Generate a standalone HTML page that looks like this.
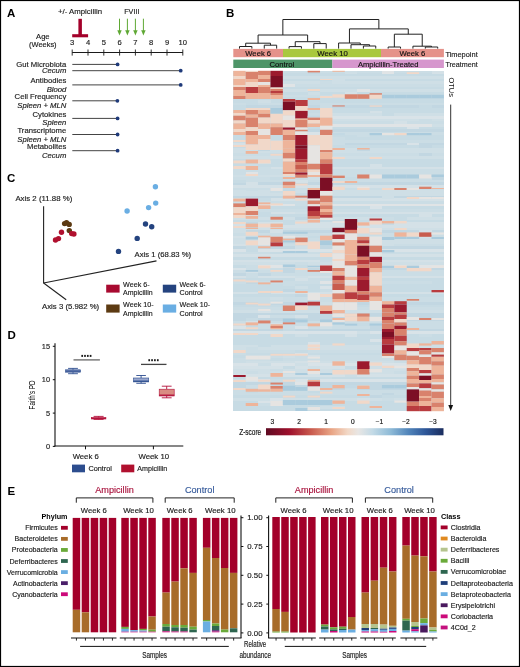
<!DOCTYPE html>
<html><head><meta charset="utf-8"><style>
html,body{margin:0;padding:0;background:#fff;}
body{width:520px;height:667px;overflow:hidden;}
svg{display:block;will-change:transform;font-family:"Liberation Sans", sans-serif;}
</style></head><body>
<svg width="520" height="667" viewBox="0 0 520 667">
<rect x="0" y="0" width="520" height="667" fill="#fff"/>
<text x="6.90" y="16.90" font-size="11.5" fill="#000" font-weight="bold">A</text>
<text x="58.00" y="13.80" font-size="7.6" stroke="#1a1a1a" stroke-width="0.15" fill="#1a1a1a" textLength="44" lengthAdjust="spacingAndGlyphs">+/- Ampicillin</text>
<text x="124.20" y="13.60" font-size="7.6" stroke="#1a1a1a" stroke-width="0.15" fill="#1a1a1a" textLength="15.2" lengthAdjust="spacingAndGlyphs">FVIII</text>
<rect x="78.40" y="18.80" width="3.50" height="16.20" fill="#a3002a" />
<rect x="72.20" y="34.20" width="15.90" height="3.10" fill="#a3002a" />
<line x1="119.50" y1="18.70" x2="119.50" y2="31.50" stroke="#5fa834" stroke-width="1" />
<polygon points="117.30,30.2 121.70,30.2 119.50,35.6" fill="#5fa834"/>
<line x1="127.40" y1="18.70" x2="127.40" y2="31.50" stroke="#5fa834" stroke-width="1" />
<polygon points="125.20,30.2 129.60,30.2 127.40,35.6" fill="#5fa834"/>
<line x1="135.40" y1="18.70" x2="135.40" y2="31.50" stroke="#5fa834" stroke-width="1" />
<polygon points="133.20,30.2 137.60,30.2 135.40,35.6" fill="#5fa834"/>
<line x1="143.40" y1="18.70" x2="143.40" y2="31.50" stroke="#5fa834" stroke-width="1" />
<polygon points="141.20,30.2 145.60,30.2 143.40,35.6" fill="#5fa834"/>
<text x="42.85" y="38.50" font-size="7.6" stroke="#1a1a1a" stroke-width="0.15" text-anchor="middle" fill="#1a1a1a">Age</text>
<text x="42.80" y="46.90" font-size="7.6" stroke="#1a1a1a" stroke-width="0.15" text-anchor="middle" fill="#1a1a1a" textLength="27.6" lengthAdjust="spacingAndGlyphs">(Weeks)</text>
<text x="72.20" y="44.60" font-size="7.6" stroke="#1a1a1a" stroke-width="0.15" text-anchor="middle" fill="#1a1a1a">3</text>
<line x1="72.20" y1="49.50" x2="72.20" y2="55.60" stroke="#1a1a1a" stroke-width="0.9" />
<text x="88.00" y="44.60" font-size="7.6" stroke="#1a1a1a" stroke-width="0.15" text-anchor="middle" fill="#1a1a1a">4</text>
<line x1="88.00" y1="49.50" x2="88.00" y2="55.60" stroke="#1a1a1a" stroke-width="0.9" />
<text x="103.80" y="44.60" font-size="7.6" stroke="#1a1a1a" stroke-width="0.15" text-anchor="middle" fill="#1a1a1a">5</text>
<line x1="103.80" y1="49.50" x2="103.80" y2="55.60" stroke="#1a1a1a" stroke-width="0.9" />
<text x="119.60" y="44.60" font-size="7.6" stroke="#1a1a1a" stroke-width="0.15" text-anchor="middle" fill="#1a1a1a">6</text>
<line x1="119.60" y1="49.50" x2="119.60" y2="55.60" stroke="#1a1a1a" stroke-width="0.9" />
<text x="135.40" y="44.60" font-size="7.6" stroke="#1a1a1a" stroke-width="0.15" text-anchor="middle" fill="#1a1a1a">7</text>
<line x1="135.40" y1="49.50" x2="135.40" y2="55.60" stroke="#1a1a1a" stroke-width="0.9" />
<text x="151.20" y="44.60" font-size="7.6" stroke="#1a1a1a" stroke-width="0.15" text-anchor="middle" fill="#1a1a1a">8</text>
<line x1="151.20" y1="49.50" x2="151.20" y2="55.60" stroke="#1a1a1a" stroke-width="0.9" />
<text x="167.00" y="44.60" font-size="7.6" stroke="#1a1a1a" stroke-width="0.15" text-anchor="middle" fill="#1a1a1a">9</text>
<line x1="167.00" y1="49.50" x2="167.00" y2="55.60" stroke="#1a1a1a" stroke-width="0.9" />
<text x="182.80" y="44.60" font-size="7.6" stroke="#1a1a1a" stroke-width="0.15" text-anchor="middle" fill="#1a1a1a">10</text>
<line x1="182.80" y1="49.50" x2="182.80" y2="55.60" stroke="#1a1a1a" stroke-width="0.9" />
<line x1="72.20" y1="52.50" x2="182.90" y2="52.50" stroke="#1a1a1a" stroke-width="1.1" />
<text x="66.30" y="66.80" font-size="7.7" stroke="#1a1a1a" stroke-width="0.15" text-anchor="end" fill="#1a1a1a">Gut Microbiota</text>
<text x="66.30" y="73.40" font-size="7.7" stroke="#1a1a1a" stroke-width="0.15" text-anchor="end" fill="#1a1a1a" font-style="italic">Cecum</text>
<text x="66.30" y="83.20" font-size="7.7" stroke="#1a1a1a" stroke-width="0.15" text-anchor="end" fill="#1a1a1a">Antibodies</text>
<text x="66.30" y="91.80" font-size="7.7" stroke="#1a1a1a" stroke-width="0.15" text-anchor="end" fill="#1a1a1a" font-style="italic">Blood</text>
<text x="66.30" y="99.40" font-size="7.7" stroke="#1a1a1a" stroke-width="0.15" text-anchor="end" fill="#1a1a1a">Cell Frequency</text>
<text x="66.30" y="107.60" font-size="7.7" stroke="#1a1a1a" stroke-width="0.15" text-anchor="end" fill="#1a1a1a" font-style="italic">Spleen + MLN</text>
<text x="66.30" y="117.20" font-size="7.7" stroke="#1a1a1a" stroke-width="0.15" text-anchor="end" fill="#1a1a1a">Cytokines</text>
<text x="66.30" y="125.30" font-size="7.7" stroke="#1a1a1a" stroke-width="0.15" text-anchor="end" fill="#1a1a1a" font-style="italic">Spleen</text>
<text x="66.30" y="133.30" font-size="7.7" stroke="#1a1a1a" stroke-width="0.15" text-anchor="end" fill="#1a1a1a">Transcriptome</text>
<text x="66.30" y="141.80" font-size="7.7" stroke="#1a1a1a" stroke-width="0.15" text-anchor="end" fill="#1a1a1a" font-style="italic">Spleen + MLN</text>
<text x="66.30" y="149.10" font-size="7.7" stroke="#1a1a1a" stroke-width="0.15" text-anchor="end" fill="#1a1a1a">Metabolites</text>
<text x="66.30" y="157.60" font-size="7.7" stroke="#1a1a1a" stroke-width="0.15" text-anchor="end" fill="#1a1a1a" font-style="italic">Cecum</text>
<line x1="72.30" y1="64.40" x2="117.60" y2="64.40" stroke="#444" stroke-width="1.0" />
<circle cx="117.60" cy="64.40" r="1.9" fill="#1f3a7a"/>
<line x1="72.30" y1="70.70" x2="180.70" y2="70.70" stroke="#444" stroke-width="1.0" />
<circle cx="180.70" cy="70.70" r="1.9" fill="#1f3a7a"/>
<line x1="72.30" y1="84.90" x2="180.70" y2="84.90" stroke="#444" stroke-width="1.0" />
<circle cx="180.70" cy="84.90" r="1.9" fill="#1f3a7a"/>
<line x1="72.30" y1="100.80" x2="117.40" y2="100.80" stroke="#444" stroke-width="1.0" />
<circle cx="117.40" cy="100.80" r="1.9" fill="#1f3a7a"/>
<line x1="72.30" y1="118.40" x2="117.60" y2="118.40" stroke="#444" stroke-width="1.0" />
<circle cx="117.60" cy="118.40" r="1.9" fill="#1f3a7a"/>
<line x1="72.30" y1="134.50" x2="117.60" y2="134.50" stroke="#444" stroke-width="1.0" />
<circle cx="117.60" cy="134.50" r="1.9" fill="#1f3a7a"/>
<line x1="72.30" y1="150.70" x2="117.60" y2="150.70" stroke="#444" stroke-width="1.0" />
<circle cx="117.60" cy="150.70" r="1.9" fill="#1f3a7a"/>
<text x="226.00" y="16.90" font-size="11.5" fill="#000" font-weight="bold">B</text>
<g shape-rendering="crispEdges">
<rect x="233.30" y="70.80" width="210.60" height="2.71" fill="#cbdde5" />
<rect x="233.30" y="73.46" width="210.60" height="2.71" fill="#c7dbe4" />
<rect x="233.30" y="76.12" width="210.60" height="2.71" fill="#cfdfe6" />
<rect x="233.30" y="78.78" width="210.60" height="2.71" fill="#c7dbe4" />
<rect x="233.30" y="81.44" width="210.60" height="2.71" fill="#cfdfe6" />
<rect x="233.30" y="84.10" width="210.60" height="2.71" fill="#cbdde5" />
<rect x="233.30" y="86.76" width="210.60" height="2.71" fill="#c7dbe4" />
<rect x="233.30" y="89.42" width="210.60" height="2.71" fill="#cfdfe6" />
<rect x="233.30" y="92.07" width="210.60" height="2.71" fill="#c7dbe4" />
<rect x="233.30" y="94.73" width="210.60" height="2.71" fill="#cbdde5" />
<rect x="233.30" y="97.39" width="210.60" height="2.71" fill="#c7dbe4" />
<rect x="233.30" y="100.05" width="210.60" height="2.71" fill="#c7dbe4" />
<rect x="233.30" y="102.71" width="210.60" height="2.71" fill="#cbdde5" />
<rect x="233.30" y="105.37" width="210.60" height="2.71" fill="#c2d7e2" />
<rect x="233.30" y="108.03" width="210.60" height="2.71" fill="#c7dbe4" />
<rect x="233.30" y="110.69" width="210.60" height="2.71" fill="#c7dbe4" />
<rect x="233.30" y="113.35" width="210.60" height="2.71" fill="#cfdfe6" />
<rect x="233.30" y="116.01" width="210.60" height="2.71" fill="#d9e3e8" />
<rect x="233.30" y="118.67" width="210.60" height="2.71" fill="#cfdfe6" />
<rect x="233.30" y="121.33" width="210.60" height="2.71" fill="#cbdde5" />
<rect x="233.30" y="123.99" width="210.60" height="2.71" fill="#e0e4e6" />
<rect x="233.30" y="126.65" width="210.60" height="2.71" fill="#c7dbe4" />
<rect x="233.30" y="129.31" width="210.60" height="2.71" fill="#c2d7e2" />
<rect x="233.30" y="131.97" width="210.60" height="2.71" fill="#cbdde5" />
<rect x="233.30" y="134.62" width="210.60" height="2.71" fill="#c7dbe4" />
<rect x="233.30" y="137.28" width="210.60" height="2.71" fill="#c7dbe4" />
<rect x="233.30" y="139.94" width="210.60" height="2.71" fill="#cbdde5" />
<rect x="233.30" y="142.60" width="210.60" height="2.71" fill="#c2d7e2" />
<rect x="233.30" y="145.26" width="210.60" height="2.71" fill="#c7dbe4" />
<rect x="233.30" y="147.92" width="210.60" height="2.71" fill="#cfdfe6" />
<rect x="233.30" y="150.58" width="210.60" height="2.71" fill="#cfdfe6" />
<rect x="233.30" y="153.24" width="210.60" height="2.71" fill="#cbdde5" />
<rect x="233.30" y="155.90" width="210.60" height="2.71" fill="#cfdfe6" />
<rect x="233.30" y="158.56" width="210.60" height="2.71" fill="#c7dbe4" />
<rect x="233.30" y="161.22" width="210.60" height="2.71" fill="#c7dbe4" />
<rect x="233.30" y="163.88" width="210.60" height="2.71" fill="#c7dbe4" />
<rect x="233.30" y="166.54" width="210.60" height="2.71" fill="#d4e1e7" />
<rect x="233.30" y="169.20" width="210.60" height="2.71" fill="#cbdde5" />
<rect x="233.30" y="171.86" width="210.60" height="2.71" fill="#cbdde5" />
<rect x="233.30" y="174.52" width="210.60" height="2.71" fill="#cfdfe6" />
<rect x="233.30" y="177.18" width="210.60" height="2.71" fill="#cbdde5" />
<rect x="233.30" y="179.83" width="210.60" height="2.71" fill="#cbdde5" />
<rect x="233.30" y="182.49" width="210.60" height="2.71" fill="#c2d7e2" />
<rect x="233.30" y="185.15" width="210.60" height="2.71" fill="#d4e1e7" />
<rect x="233.30" y="187.81" width="210.60" height="2.71" fill="#cbdde5" />
<rect x="233.30" y="190.47" width="210.60" height="2.71" fill="#cfdfe6" />
<rect x="233.30" y="193.13" width="210.60" height="2.71" fill="#cfdfe6" />
<rect x="233.30" y="195.79" width="210.60" height="2.71" fill="#c2d7e2" />
<rect x="233.30" y="198.45" width="210.60" height="2.71" fill="#d4e1e7" />
<rect x="233.30" y="201.11" width="210.60" height="2.71" fill="#cbdde5" />
<rect x="233.30" y="203.77" width="210.60" height="2.71" fill="#e0e4e6" />
<rect x="233.30" y="206.43" width="210.60" height="2.71" fill="#c7dbe4" />
<rect x="233.30" y="209.09" width="210.60" height="2.71" fill="#cbdde5" />
<rect x="233.30" y="211.75" width="210.60" height="2.71" fill="#d4e1e7" />
<rect x="233.30" y="214.41" width="210.60" height="2.71" fill="#c7dbe4" />
<rect x="233.30" y="217.07" width="210.60" height="2.71" fill="#cfdfe6" />
<rect x="233.30" y="219.72" width="210.60" height="2.71" fill="#c7dbe4" />
<rect x="233.30" y="222.38" width="210.60" height="2.71" fill="#d4e1e7" />
<rect x="233.30" y="225.04" width="210.60" height="2.71" fill="#d4e1e7" />
<rect x="233.30" y="227.70" width="210.60" height="2.71" fill="#cfdfe6" />
<rect x="233.30" y="230.36" width="210.60" height="2.71" fill="#c2d7e2" />
<rect x="233.30" y="233.02" width="210.60" height="2.71" fill="#cbdde5" />
<rect x="233.30" y="235.68" width="210.60" height="2.71" fill="#d4e1e7" />
<rect x="233.30" y="238.34" width="210.60" height="2.71" fill="#cfdfe6" />
<rect x="233.30" y="241.00" width="210.60" height="2.71" fill="#cfdfe6" />
<rect x="233.30" y="243.66" width="210.60" height="2.71" fill="#cbdde5" />
<rect x="233.30" y="246.32" width="210.60" height="2.71" fill="#c2d7e2" />
<rect x="233.30" y="248.98" width="210.60" height="2.71" fill="#d9e3e8" />
<rect x="233.30" y="251.64" width="210.60" height="2.71" fill="#cbdde5" />
<rect x="233.30" y="254.30" width="210.60" height="2.71" fill="#d4e1e7" />
<rect x="233.30" y="256.96" width="210.60" height="2.71" fill="#c7dbe4" />
<rect x="233.30" y="259.62" width="210.60" height="2.71" fill="#d4e1e7" />
<rect x="233.30" y="262.27" width="210.60" height="2.71" fill="#cfdfe6" />
<rect x="233.30" y="264.93" width="210.60" height="2.71" fill="#e0e4e6" />
<rect x="233.30" y="267.59" width="210.60" height="2.71" fill="#c2d7e2" />
<rect x="233.30" y="270.25" width="210.60" height="2.71" fill="#cbdde5" />
<rect x="233.30" y="272.91" width="210.60" height="2.71" fill="#cbdde5" />
<rect x="233.30" y="275.57" width="210.60" height="2.71" fill="#d4e1e7" />
<rect x="233.30" y="278.23" width="210.60" height="2.71" fill="#c7dbe4" />
<rect x="233.30" y="280.89" width="210.60" height="2.71" fill="#cbdde5" />
<rect x="233.30" y="283.55" width="210.60" height="2.71" fill="#c7dbe4" />
<rect x="233.30" y="286.21" width="210.60" height="2.71" fill="#c7dbe4" />
<rect x="233.30" y="288.87" width="210.60" height="2.71" fill="#c7dbe4" />
<rect x="233.30" y="291.53" width="210.60" height="2.71" fill="#d4e1e7" />
<rect x="233.30" y="294.19" width="210.60" height="2.71" fill="#c7dbe4" />
<rect x="233.30" y="296.85" width="210.60" height="2.71" fill="#cbdde5" />
<rect x="233.30" y="299.51" width="210.60" height="2.71" fill="#cbdde5" />
<rect x="233.30" y="302.17" width="210.60" height="2.71" fill="#c2d7e2" />
<rect x="233.30" y="304.82" width="210.60" height="2.71" fill="#c7dbe4" />
<rect x="233.30" y="307.48" width="210.60" height="2.71" fill="#cbdde5" />
<rect x="233.30" y="310.14" width="210.60" height="2.71" fill="#cfdfe6" />
<rect x="233.30" y="312.80" width="210.60" height="2.71" fill="#c2d7e2" />
<rect x="233.30" y="315.46" width="210.60" height="2.71" fill="#c2d7e2" />
<rect x="233.30" y="318.12" width="210.60" height="2.71" fill="#c2d7e2" />
<rect x="233.30" y="320.78" width="210.60" height="2.71" fill="#cbdde5" />
<rect x="233.30" y="323.44" width="210.60" height="2.71" fill="#cbdde5" />
<rect x="233.30" y="326.10" width="210.60" height="2.71" fill="#cbdde5" />
<rect x="233.30" y="328.76" width="210.60" height="2.71" fill="#c2d7e2" />
<rect x="233.30" y="331.42" width="210.60" height="2.71" fill="#d9e3e8" />
<rect x="233.30" y="334.08" width="210.60" height="2.71" fill="#c7dbe4" />
<rect x="233.30" y="336.74" width="210.60" height="2.71" fill="#c7dbe4" />
<rect x="233.30" y="339.40" width="210.60" height="2.71" fill="#c7dbe4" />
<rect x="233.30" y="342.06" width="210.60" height="2.71" fill="#c7dbe4" />
<rect x="233.30" y="344.72" width="210.60" height="2.71" fill="#cfdfe6" />
<rect x="233.30" y="347.38" width="210.60" height="2.71" fill="#cfdfe6" />
<rect x="233.30" y="350.03" width="210.60" height="2.71" fill="#cbdde5" />
<rect x="233.30" y="352.69" width="210.60" height="2.71" fill="#c7dbe4" />
<rect x="233.30" y="355.35" width="210.60" height="2.71" fill="#cbdde5" />
<rect x="233.30" y="358.01" width="210.60" height="2.71" fill="#cbdde5" />
<rect x="233.30" y="360.67" width="210.60" height="2.71" fill="#cfdfe6" />
<rect x="233.30" y="363.33" width="210.60" height="2.71" fill="#d9e3e8" />
<rect x="233.30" y="365.99" width="210.60" height="2.71" fill="#d4e1e7" />
<rect x="233.30" y="368.65" width="210.60" height="2.71" fill="#cfdfe6" />
<rect x="233.30" y="371.31" width="210.60" height="2.71" fill="#cfdfe6" />
<rect x="233.30" y="373.97" width="210.60" height="2.71" fill="#d4e1e7" />
<rect x="233.30" y="376.63" width="210.60" height="2.71" fill="#c7dbe4" />
<rect x="233.30" y="379.29" width="210.60" height="2.71" fill="#d9e3e8" />
<rect x="233.30" y="381.95" width="210.60" height="2.71" fill="#c2d7e2" />
<rect x="233.30" y="384.61" width="210.60" height="2.71" fill="#c2d7e2" />
<rect x="233.30" y="387.27" width="210.60" height="2.71" fill="#c2d7e2" />
<rect x="233.30" y="389.93" width="210.60" height="2.71" fill="#cbdde5" />
<rect x="233.30" y="392.58" width="210.60" height="2.71" fill="#cbdde5" />
<rect x="233.30" y="395.24" width="210.60" height="2.71" fill="#c7dbe4" />
<rect x="233.30" y="397.90" width="210.60" height="2.71" fill="#cfdfe6" />
<rect x="233.30" y="400.56" width="210.60" height="2.71" fill="#c7dbe4" />
<rect x="233.30" y="403.22" width="210.60" height="2.71" fill="#c7dbe4" />
<rect x="233.30" y="405.88" width="210.60" height="2.71" fill="#c7dbe4" />
<rect x="233.30" y="408.54" width="210.60" height="2.71" fill="#c7dbe4" />
<rect x="233.30" y="73.46" width="12.44" height="2.71" fill="#c7dbe4" />
<rect x="233.30" y="76.12" width="12.44" height="2.71" fill="#c7dbe4" />
<rect x="233.30" y="81.44" width="12.44" height="2.71" fill="#c2d7e2" />
<rect x="233.30" y="86.76" width="12.44" height="2.71" fill="#cbdde5" />
<rect x="233.30" y="94.73" width="12.44" height="2.71" fill="#c2d7e2" />
<rect x="233.30" y="105.37" width="12.44" height="2.71" fill="#c7dbe4" />
<rect x="233.30" y="116.01" width="12.44" height="2.71" fill="#c7dbe4" />
<rect x="233.30" y="123.99" width="12.44" height="2.71" fill="#cfdfe6" />
<rect x="233.30" y="126.65" width="12.44" height="2.71" fill="#cfdfe6" />
<rect x="233.30" y="142.60" width="12.44" height="2.71" fill="#d4e1e7" />
<rect x="233.30" y="179.83" width="12.44" height="2.71" fill="#c7dbe4" />
<rect x="233.30" y="211.75" width="12.44" height="2.71" fill="#c7dbe4" />
<rect x="233.30" y="230.36" width="12.44" height="2.71" fill="#cfdfe6" />
<rect x="233.30" y="243.66" width="12.44" height="2.71" fill="#d4e1e7" />
<rect x="233.30" y="264.93" width="12.44" height="2.71" fill="#c7dbe4" />
<rect x="233.30" y="267.59" width="12.44" height="2.71" fill="#d9e3e8" />
<rect x="233.30" y="272.91" width="12.44" height="2.71" fill="#c2d7e2" />
<rect x="233.30" y="286.21" width="12.44" height="2.71" fill="#c7dbe4" />
<rect x="233.30" y="326.10" width="12.44" height="2.71" fill="#d9e3e8" />
<rect x="233.30" y="352.69" width="12.44" height="2.71" fill="#cbdde5" />
<rect x="233.30" y="355.35" width="12.44" height="2.71" fill="#c7dbe4" />
<rect x="233.30" y="360.67" width="12.44" height="2.71" fill="#cbdde5" />
<rect x="233.30" y="379.29" width="12.44" height="2.71" fill="#cfdfe6" />
<rect x="245.69" y="102.71" width="12.44" height="2.71" fill="#c7dbe4" />
<rect x="245.69" y="108.03" width="12.44" height="2.71" fill="#c7dbe4" />
<rect x="245.69" y="110.69" width="12.44" height="2.71" fill="#cfdfe6" />
<rect x="245.69" y="118.67" width="12.44" height="2.71" fill="#d4e1e7" />
<rect x="245.69" y="123.99" width="12.44" height="2.71" fill="#c2d7e2" />
<rect x="245.69" y="145.26" width="12.44" height="2.71" fill="#cbdde5" />
<rect x="245.69" y="153.24" width="12.44" height="2.71" fill="#cbdde5" />
<rect x="245.69" y="158.56" width="12.44" height="2.71" fill="#cfdfe6" />
<rect x="245.69" y="163.88" width="12.44" height="2.71" fill="#cbdde5" />
<rect x="245.69" y="171.86" width="12.44" height="2.71" fill="#e0e4e6" />
<rect x="245.69" y="179.83" width="12.44" height="2.71" fill="#cbdde5" />
<rect x="245.69" y="182.49" width="12.44" height="2.71" fill="#d4e1e7" />
<rect x="245.69" y="187.81" width="12.44" height="2.71" fill="#cbdde5" />
<rect x="245.69" y="198.45" width="12.44" height="2.71" fill="#d9e3e8" />
<rect x="245.69" y="206.43" width="12.44" height="2.71" fill="#c7dbe4" />
<rect x="245.69" y="214.41" width="12.44" height="2.71" fill="#d9e3e8" />
<rect x="245.69" y="222.38" width="12.44" height="2.71" fill="#c2d7e2" />
<rect x="245.69" y="225.04" width="12.44" height="2.71" fill="#c2d7e2" />
<rect x="245.69" y="241.00" width="12.44" height="2.71" fill="#cfdfe6" />
<rect x="245.69" y="246.32" width="12.44" height="2.71" fill="#c7dbe4" />
<rect x="245.69" y="248.98" width="12.44" height="2.71" fill="#c7dbe4" />
<rect x="245.69" y="264.93" width="12.44" height="2.71" fill="#cbdde5" />
<rect x="245.69" y="267.59" width="12.44" height="2.71" fill="#cbdde5" />
<rect x="245.69" y="270.25" width="12.44" height="2.71" fill="#d4e1e7" />
<rect x="245.69" y="275.57" width="12.44" height="2.71" fill="#cbdde5" />
<rect x="245.69" y="280.89" width="12.44" height="2.71" fill="#c2d7e2" />
<rect x="245.69" y="318.12" width="12.44" height="2.71" fill="#c7dbe4" />
<rect x="245.69" y="320.78" width="12.44" height="2.71" fill="#d4e1e7" />
<rect x="245.69" y="326.10" width="12.44" height="2.71" fill="#c7dbe4" />
<rect x="245.69" y="347.38" width="12.44" height="2.71" fill="#cbdde5" />
<rect x="245.69" y="371.31" width="12.44" height="2.71" fill="#cbdde5" />
<rect x="245.69" y="384.61" width="12.44" height="2.71" fill="#cbdde5" />
<rect x="245.69" y="387.27" width="12.44" height="2.71" fill="#cbdde5" />
<rect x="245.69" y="389.93" width="12.44" height="2.71" fill="#c7dbe4" />
<rect x="258.08" y="81.44" width="12.44" height="2.71" fill="#d4e1e7" />
<rect x="258.08" y="86.76" width="12.44" height="2.71" fill="#c2d7e2" />
<rect x="258.08" y="100.05" width="12.44" height="2.71" fill="#cfdfe6" />
<rect x="258.08" y="126.65" width="12.44" height="2.71" fill="#c7dbe4" />
<rect x="258.08" y="131.97" width="12.44" height="2.71" fill="#c2d7e2" />
<rect x="258.08" y="147.92" width="12.44" height="2.71" fill="#c2d7e2" />
<rect x="258.08" y="161.22" width="12.44" height="2.71" fill="#d4e1e7" />
<rect x="258.08" y="166.54" width="12.44" height="2.71" fill="#cbdde5" />
<rect x="258.08" y="198.45" width="12.44" height="2.71" fill="#c7dbe4" />
<rect x="258.08" y="211.75" width="12.44" height="2.71" fill="#c7dbe4" />
<rect x="258.08" y="235.68" width="12.44" height="2.71" fill="#d9e3e8" />
<rect x="258.08" y="238.34" width="12.44" height="2.71" fill="#e0e4e6" />
<rect x="258.08" y="243.66" width="12.44" height="2.71" fill="#cbdde5" />
<rect x="258.08" y="267.59" width="12.44" height="2.71" fill="#cfdfe6" />
<rect x="258.08" y="272.91" width="12.44" height="2.71" fill="#c2d7e2" />
<rect x="258.08" y="291.53" width="12.44" height="2.71" fill="#c7dbe4" />
<rect x="258.08" y="302.17" width="12.44" height="2.71" fill="#cbdde5" />
<rect x="258.08" y="310.14" width="12.44" height="2.71" fill="#d4e1e7" />
<rect x="258.08" y="315.46" width="12.44" height="2.71" fill="#d9e3e8" />
<rect x="258.08" y="344.72" width="12.44" height="2.71" fill="#c7dbe4" />
<rect x="258.08" y="363.33" width="12.44" height="2.71" fill="#cbdde5" />
<rect x="258.08" y="387.27" width="12.44" height="2.71" fill="#d4e1e7" />
<rect x="258.08" y="400.56" width="12.44" height="2.71" fill="#d9e3e8" />
<rect x="258.08" y="403.22" width="12.44" height="2.71" fill="#cbdde5" />
<rect x="270.46" y="89.42" width="12.44" height="2.71" fill="#c7dbe4" />
<rect x="270.46" y="110.69" width="12.44" height="2.71" fill="#c7dbe4" />
<rect x="270.46" y="113.35" width="12.44" height="2.71" fill="#cbdde5" />
<rect x="270.46" y="116.01" width="12.44" height="2.71" fill="#c7dbe4" />
<rect x="270.46" y="142.60" width="12.44" height="2.71" fill="#cbdde5" />
<rect x="270.46" y="147.92" width="12.44" height="2.71" fill="#cfdfe6" />
<rect x="270.46" y="177.18" width="12.44" height="2.71" fill="#c7dbe4" />
<rect x="270.46" y="190.47" width="12.44" height="2.71" fill="#cbdde5" />
<rect x="270.46" y="206.43" width="12.44" height="2.71" fill="#c7dbe4" />
<rect x="270.46" y="230.36" width="12.44" height="2.71" fill="#d4e1e7" />
<rect x="270.46" y="243.66" width="12.44" height="2.71" fill="#cbdde5" />
<rect x="270.46" y="251.64" width="12.44" height="2.71" fill="#c7dbe4" />
<rect x="270.46" y="267.59" width="12.44" height="2.71" fill="#cbdde5" />
<rect x="270.46" y="296.85" width="12.44" height="2.71" fill="#cfdfe6" />
<rect x="270.46" y="315.46" width="12.44" height="2.71" fill="#cbdde5" />
<rect x="270.46" y="323.44" width="12.44" height="2.71" fill="#d4e1e7" />
<rect x="270.46" y="358.01" width="12.44" height="2.71" fill="#c7dbe4" />
<rect x="270.46" y="368.65" width="12.44" height="2.71" fill="#cbdde5" />
<rect x="270.46" y="376.63" width="12.44" height="2.71" fill="#c7dbe4" />
<rect x="270.46" y="379.29" width="12.44" height="2.71" fill="#cbdde5" />
<rect x="270.46" y="397.90" width="12.44" height="2.71" fill="#d9e3e8" />
<rect x="270.46" y="403.22" width="12.44" height="2.71" fill="#cfdfe6" />
<rect x="282.85" y="73.46" width="12.44" height="2.71" fill="#c7dbe4" />
<rect x="282.85" y="84.10" width="12.44" height="2.71" fill="#e0e4e6" />
<rect x="282.85" y="100.05" width="12.44" height="2.71" fill="#cbdde5" />
<rect x="282.85" y="108.03" width="12.44" height="2.71" fill="#cbdde5" />
<rect x="282.85" y="113.35" width="12.44" height="2.71" fill="#cbdde5" />
<rect x="282.85" y="121.33" width="12.44" height="2.71" fill="#c7dbe4" />
<rect x="282.85" y="123.99" width="12.44" height="2.71" fill="#d9e3e8" />
<rect x="282.85" y="155.90" width="12.44" height="2.71" fill="#d4e1e7" />
<rect x="282.85" y="166.54" width="12.44" height="2.71" fill="#c7dbe4" />
<rect x="282.85" y="190.47" width="12.44" height="2.71" fill="#c2d7e2" />
<rect x="282.85" y="214.41" width="12.44" height="2.71" fill="#c7dbe4" />
<rect x="282.85" y="222.38" width="12.44" height="2.71" fill="#c7dbe4" />
<rect x="282.85" y="241.00" width="12.44" height="2.71" fill="#c7dbe4" />
<rect x="282.85" y="270.25" width="12.44" height="2.71" fill="#c2d7e2" />
<rect x="282.85" y="283.55" width="12.44" height="2.71" fill="#cbdde5" />
<rect x="282.85" y="288.87" width="12.44" height="2.71" fill="#c2d7e2" />
<rect x="282.85" y="315.46" width="12.44" height="2.71" fill="#cbdde5" />
<rect x="282.85" y="326.10" width="12.44" height="2.71" fill="#cbdde5" />
<rect x="282.85" y="328.76" width="12.44" height="2.71" fill="#c7dbe4" />
<rect x="282.85" y="355.35" width="12.44" height="2.71" fill="#cfdfe6" />
<rect x="282.85" y="365.99" width="12.44" height="2.71" fill="#c7dbe4" />
<rect x="282.85" y="379.29" width="12.44" height="2.71" fill="#cbdde5" />
<rect x="282.85" y="384.61" width="12.44" height="2.71" fill="#cbdde5" />
<rect x="282.85" y="395.24" width="12.44" height="2.71" fill="#c7dbe4" />
<rect x="282.85" y="405.88" width="12.44" height="2.71" fill="#c7dbe4" />
<rect x="295.24" y="100.05" width="12.44" height="2.71" fill="#d4e1e7" />
<rect x="295.24" y="105.37" width="12.44" height="2.71" fill="#d9e3e8" />
<rect x="295.24" y="121.33" width="12.44" height="2.71" fill="#c7dbe4" />
<rect x="295.24" y="131.97" width="12.44" height="2.71" fill="#cfdfe6" />
<rect x="295.24" y="139.94" width="12.44" height="2.71" fill="#cbdde5" />
<rect x="295.24" y="147.92" width="12.44" height="2.71" fill="#cbdde5" />
<rect x="295.24" y="155.90" width="12.44" height="2.71" fill="#c7dbe4" />
<rect x="295.24" y="166.54" width="12.44" height="2.71" fill="#d9e3e8" />
<rect x="295.24" y="179.83" width="12.44" height="2.71" fill="#d4e1e7" />
<rect x="295.24" y="193.13" width="12.44" height="2.71" fill="#c7dbe4" />
<rect x="295.24" y="203.77" width="12.44" height="2.71" fill="#cbdde5" />
<rect x="295.24" y="211.75" width="12.44" height="2.71" fill="#cfdfe6" />
<rect x="295.24" y="217.07" width="12.44" height="2.71" fill="#c2d7e2" />
<rect x="295.24" y="219.72" width="12.44" height="2.71" fill="#cfdfe6" />
<rect x="295.24" y="246.32" width="12.44" height="2.71" fill="#cfdfe6" />
<rect x="295.24" y="262.27" width="12.44" height="2.71" fill="#cbdde5" />
<rect x="295.24" y="264.93" width="12.44" height="2.71" fill="#c7dbe4" />
<rect x="295.24" y="270.25" width="12.44" height="2.71" fill="#cbdde5" />
<rect x="295.24" y="275.57" width="12.44" height="2.71" fill="#cfdfe6" />
<rect x="295.24" y="278.23" width="12.44" height="2.71" fill="#d4e1e7" />
<rect x="295.24" y="286.21" width="12.44" height="2.71" fill="#cfdfe6" />
<rect x="295.24" y="294.19" width="12.44" height="2.71" fill="#c2d7e2" />
<rect x="295.24" y="304.82" width="12.44" height="2.71" fill="#e0e4e6" />
<rect x="295.24" y="315.46" width="12.44" height="2.71" fill="#d4e1e7" />
<rect x="295.24" y="320.78" width="12.44" height="2.71" fill="#cbdde5" />
<rect x="295.24" y="326.10" width="12.44" height="2.71" fill="#d9e3e8" />
<rect x="295.24" y="334.08" width="12.44" height="2.71" fill="#cfdfe6" />
<rect x="295.24" y="350.03" width="12.44" height="2.71" fill="#c7dbe4" />
<rect x="295.24" y="352.69" width="12.44" height="2.71" fill="#d9e3e8" />
<rect x="295.24" y="360.67" width="12.44" height="2.71" fill="#d4e1e7" />
<rect x="295.24" y="363.33" width="12.44" height="2.71" fill="#cfdfe6" />
<rect x="295.24" y="381.95" width="12.44" height="2.71" fill="#e0e4e6" />
<rect x="295.24" y="408.54" width="12.44" height="2.71" fill="#d4e1e7" />
<rect x="307.63" y="70.80" width="12.44" height="2.71" fill="#c2d7e2" />
<rect x="307.63" y="89.42" width="12.44" height="2.71" fill="#c7dbe4" />
<rect x="307.63" y="92.07" width="12.44" height="2.71" fill="#cfdfe6" />
<rect x="307.63" y="102.71" width="12.44" height="2.71" fill="#c7dbe4" />
<rect x="307.63" y="108.03" width="12.44" height="2.71" fill="#c7dbe4" />
<rect x="307.63" y="113.35" width="12.44" height="2.71" fill="#cbdde5" />
<rect x="307.63" y="131.97" width="12.44" height="2.71" fill="#d9e3e8" />
<rect x="307.63" y="137.28" width="12.44" height="2.71" fill="#c7dbe4" />
<rect x="307.63" y="153.24" width="12.44" height="2.71" fill="#cfdfe6" />
<rect x="307.63" y="177.18" width="12.44" height="2.71" fill="#cfdfe6" />
<rect x="307.63" y="185.15" width="12.44" height="2.71" fill="#d4e1e7" />
<rect x="307.63" y="187.81" width="12.44" height="2.71" fill="#cfdfe6" />
<rect x="307.63" y="193.13" width="12.44" height="2.71" fill="#c7dbe4" />
<rect x="307.63" y="206.43" width="12.44" height="2.71" fill="#cbdde5" />
<rect x="307.63" y="211.75" width="12.44" height="2.71" fill="#c2d7e2" />
<rect x="307.63" y="219.72" width="12.44" height="2.71" fill="#c2d7e2" />
<rect x="307.63" y="235.68" width="12.44" height="2.71" fill="#c7dbe4" />
<rect x="307.63" y="238.34" width="12.44" height="2.71" fill="#cbdde5" />
<rect x="307.63" y="278.23" width="12.44" height="2.71" fill="#cbdde5" />
<rect x="307.63" y="342.06" width="12.44" height="2.71" fill="#d9e3e8" />
<rect x="307.63" y="344.72" width="12.44" height="2.71" fill="#c7dbe4" />
<rect x="307.63" y="347.38" width="12.44" height="2.71" fill="#d9e3e8" />
<rect x="307.63" y="352.69" width="12.44" height="2.71" fill="#c7dbe4" />
<rect x="307.63" y="355.35" width="12.44" height="2.71" fill="#d4e1e7" />
<rect x="307.63" y="365.99" width="12.44" height="2.71" fill="#cfdfe6" />
<rect x="307.63" y="379.29" width="12.44" height="2.71" fill="#c2d7e2" />
<rect x="307.63" y="387.27" width="12.44" height="2.71" fill="#c7dbe4" />
<rect x="307.63" y="389.93" width="12.44" height="2.71" fill="#c7dbe4" />
<rect x="307.63" y="408.54" width="12.44" height="2.71" fill="#c7dbe4" />
<rect x="320.02" y="81.44" width="12.44" height="2.71" fill="#cbdde5" />
<rect x="320.02" y="105.37" width="12.44" height="2.71" fill="#cbdde5" />
<rect x="320.02" y="126.65" width="12.44" height="2.71" fill="#c2d7e2" />
<rect x="320.02" y="129.31" width="12.44" height="2.71" fill="#c7dbe4" />
<rect x="320.02" y="139.94" width="12.44" height="2.71" fill="#cfdfe6" />
<rect x="320.02" y="147.92" width="12.44" height="2.71" fill="#cfdfe6" />
<rect x="320.02" y="171.86" width="12.44" height="2.71" fill="#cfdfe6" />
<rect x="320.02" y="174.52" width="12.44" height="2.71" fill="#d4e1e7" />
<rect x="320.02" y="195.79" width="12.44" height="2.71" fill="#c2d7e2" />
<rect x="320.02" y="198.45" width="12.44" height="2.71" fill="#c7dbe4" />
<rect x="320.02" y="235.68" width="12.44" height="2.71" fill="#c2d7e2" />
<rect x="320.02" y="243.66" width="12.44" height="2.71" fill="#cbdde5" />
<rect x="320.02" y="251.64" width="12.44" height="2.71" fill="#cbdde5" />
<rect x="320.02" y="259.62" width="12.44" height="2.71" fill="#cbdde5" />
<rect x="320.02" y="267.59" width="12.44" height="2.71" fill="#c7dbe4" />
<rect x="320.02" y="278.23" width="12.44" height="2.71" fill="#cbdde5" />
<rect x="320.02" y="280.89" width="12.44" height="2.71" fill="#e0e4e6" />
<rect x="320.02" y="286.21" width="12.44" height="2.71" fill="#d9e3e8" />
<rect x="320.02" y="288.87" width="12.44" height="2.71" fill="#cbdde5" />
<rect x="320.02" y="302.17" width="12.44" height="2.71" fill="#cfdfe6" />
<rect x="320.02" y="304.82" width="12.44" height="2.71" fill="#c7dbe4" />
<rect x="320.02" y="310.14" width="12.44" height="2.71" fill="#cbdde5" />
<rect x="320.02" y="326.10" width="12.44" height="2.71" fill="#cfdfe6" />
<rect x="320.02" y="376.63" width="12.44" height="2.71" fill="#cbdde5" />
<rect x="320.02" y="405.88" width="12.44" height="2.71" fill="#cfdfe6" />
<rect x="332.41" y="78.78" width="12.44" height="2.71" fill="#cfdfe6" />
<rect x="332.41" y="137.28" width="12.44" height="2.71" fill="#cbdde5" />
<rect x="332.41" y="142.60" width="12.44" height="2.71" fill="#cbdde5" />
<rect x="332.41" y="241.00" width="12.44" height="2.71" fill="#d4e1e7" />
<rect x="332.41" y="270.25" width="12.44" height="2.71" fill="#c2d7e2" />
<rect x="332.41" y="286.21" width="12.44" height="2.71" fill="#c7dbe4" />
<rect x="332.41" y="368.65" width="12.44" height="2.71" fill="#cbdde5" />
<rect x="332.41" y="384.61" width="12.44" height="2.71" fill="#c2d7e2" />
<rect x="332.41" y="405.88" width="12.44" height="2.71" fill="#cfdfe6" />
<rect x="344.79" y="70.80" width="12.44" height="2.71" fill="#cfdfe6" />
<rect x="344.79" y="92.07" width="12.44" height="2.71" fill="#d4e1e7" />
<rect x="344.79" y="166.54" width="12.44" height="2.71" fill="#d4e1e7" />
<rect x="344.79" y="174.52" width="12.44" height="2.71" fill="#cbdde5" />
<rect x="344.79" y="177.18" width="12.44" height="2.71" fill="#c7dbe4" />
<rect x="344.79" y="225.04" width="12.44" height="2.71" fill="#d4e1e7" />
<rect x="344.79" y="262.27" width="12.44" height="2.71" fill="#cfdfe6" />
<rect x="344.79" y="264.93" width="12.44" height="2.71" fill="#c7dbe4" />
<rect x="344.79" y="278.23" width="12.44" height="2.71" fill="#cbdde5" />
<rect x="344.79" y="304.82" width="12.44" height="2.71" fill="#c7dbe4" />
<rect x="344.79" y="323.44" width="12.44" height="2.71" fill="#d4e1e7" />
<rect x="344.79" y="334.08" width="12.44" height="2.71" fill="#d4e1e7" />
<rect x="344.79" y="365.99" width="12.44" height="2.71" fill="#c7dbe4" />
<rect x="344.79" y="373.97" width="12.44" height="2.71" fill="#cbdde5" />
<rect x="344.79" y="387.27" width="12.44" height="2.71" fill="#cbdde5" />
<rect x="357.18" y="89.42" width="12.44" height="2.71" fill="#e0e4e6" />
<rect x="357.18" y="134.62" width="12.44" height="2.71" fill="#cbdde5" />
<rect x="357.18" y="147.92" width="12.44" height="2.71" fill="#c2d7e2" />
<rect x="357.18" y="264.93" width="12.44" height="2.71" fill="#e0e4e6" />
<rect x="357.18" y="288.87" width="12.44" height="2.71" fill="#c7dbe4" />
<rect x="357.18" y="323.44" width="12.44" height="2.71" fill="#c7dbe4" />
<rect x="357.18" y="331.42" width="12.44" height="2.71" fill="#cfdfe6" />
<rect x="357.18" y="344.72" width="12.44" height="2.71" fill="#cfdfe6" />
<rect x="357.18" y="384.61" width="12.44" height="2.71" fill="#cbdde5" />
<rect x="357.18" y="397.90" width="12.44" height="2.71" fill="#d4e1e7" />
<rect x="357.18" y="408.54" width="12.44" height="2.71" fill="#c7dbe4" />
<rect x="369.57" y="110.69" width="12.44" height="2.71" fill="#d4e1e7" />
<rect x="369.57" y="116.01" width="12.44" height="2.71" fill="#d9e3e8" />
<rect x="369.57" y="163.88" width="12.44" height="2.71" fill="#d4e1e7" />
<rect x="369.57" y="206.43" width="12.44" height="2.71" fill="#d9e3e8" />
<rect x="369.57" y="243.66" width="12.44" height="2.71" fill="#d4e1e7" />
<rect x="369.57" y="251.64" width="12.44" height="2.71" fill="#c2d7e2" />
<rect x="369.57" y="259.62" width="12.44" height="2.71" fill="#c2d7e2" />
<rect x="369.57" y="291.53" width="12.44" height="2.71" fill="#c7dbe4" />
<rect x="369.57" y="318.12" width="12.44" height="2.71" fill="#d4e1e7" />
<rect x="369.57" y="326.10" width="12.44" height="2.71" fill="#c2d7e2" />
<rect x="369.57" y="339.40" width="12.44" height="2.71" fill="#d9e3e8" />
<rect x="369.57" y="365.99" width="12.44" height="2.71" fill="#cfdfe6" />
<rect x="369.57" y="395.24" width="12.44" height="2.71" fill="#c2d7e2" />
<rect x="381.96" y="70.80" width="12.44" height="2.71" fill="#e0e4e6" />
<rect x="381.96" y="86.76" width="12.44" height="2.71" fill="#c7dbe4" />
<rect x="381.96" y="94.73" width="12.44" height="2.71" fill="#cfdfe6" />
<rect x="381.96" y="113.35" width="12.44" height="2.71" fill="#c7dbe4" />
<rect x="381.96" y="195.79" width="12.44" height="2.71" fill="#cfdfe6" />
<rect x="381.96" y="217.07" width="12.44" height="2.71" fill="#cbdde5" />
<rect x="381.96" y="222.38" width="12.44" height="2.71" fill="#c7dbe4" />
<rect x="381.96" y="243.66" width="12.44" height="2.71" fill="#cfdfe6" />
<rect x="381.96" y="365.99" width="12.44" height="2.71" fill="#cbdde5" />
<rect x="381.96" y="392.58" width="12.44" height="2.71" fill="#c2d7e2" />
<rect x="381.96" y="397.90" width="12.44" height="2.71" fill="#cbdde5" />
<rect x="394.35" y="121.33" width="12.44" height="2.71" fill="#d4e1e7" />
<rect x="394.35" y="217.07" width="12.44" height="2.71" fill="#c7dbe4" />
<rect x="394.35" y="360.67" width="12.44" height="2.71" fill="#cbdde5" />
<rect x="394.35" y="371.31" width="12.44" height="2.71" fill="#cbdde5" />
<rect x="406.74" y="92.07" width="12.44" height="2.71" fill="#c7dbe4" />
<rect x="406.74" y="126.65" width="12.44" height="2.71" fill="#d9e3e8" />
<rect x="406.74" y="142.60" width="12.44" height="2.71" fill="#d9e3e8" />
<rect x="406.74" y="219.72" width="12.44" height="2.71" fill="#c7dbe4" />
<rect x="406.74" y="238.34" width="12.44" height="2.71" fill="#cfdfe6" />
<rect x="406.74" y="373.97" width="12.44" height="2.71" fill="#cbdde5" />
<rect x="406.74" y="405.88" width="12.44" height="2.71" fill="#d4e1e7" />
<rect x="419.12" y="105.37" width="12.44" height="2.71" fill="#c7dbe4" />
<rect x="419.12" y="118.67" width="12.44" height="2.71" fill="#cbdde5" />
<rect x="419.12" y="145.26" width="12.44" height="2.71" fill="#c2d7e2" />
<rect x="419.12" y="153.24" width="12.44" height="2.71" fill="#c2d7e2" />
<rect x="419.12" y="158.56" width="12.44" height="2.71" fill="#c7dbe4" />
<rect x="419.12" y="214.41" width="12.44" height="2.71" fill="#d4e1e7" />
<rect x="419.12" y="230.36" width="12.44" height="2.71" fill="#d4e1e7" />
<rect x="419.12" y="251.64" width="12.44" height="2.71" fill="#cbdde5" />
<rect x="419.12" y="334.08" width="12.44" height="2.71" fill="#cbdde5" />
<rect x="419.12" y="358.01" width="12.44" height="2.71" fill="#c7dbe4" />
<rect x="419.12" y="389.93" width="12.44" height="2.71" fill="#d9e3e8" />
<rect x="431.51" y="70.80" width="12.44" height="2.71" fill="#d4e1e7" />
<rect x="431.51" y="123.99" width="12.44" height="2.71" fill="#cfdfe6" />
<rect x="431.51" y="169.20" width="12.44" height="2.71" fill="#cbdde5" />
<rect x="431.51" y="177.18" width="12.44" height="2.71" fill="#c2d7e2" />
<rect x="431.51" y="254.30" width="12.44" height="2.71" fill="#d4e1e7" />
<rect x="431.51" y="280.89" width="12.44" height="2.71" fill="#c7dbe4" />
<rect x="431.51" y="360.67" width="12.44" height="2.71" fill="#cbdde5" />
<rect x="431.51" y="405.88" width="12.44" height="2.71" fill="#c7dbe4" />
</g>
<rect x="233.30" y="70.80" width="12.39" height="5.20" fill="#eeb49a" />
<rect x="233.30" y="76.00" width="12.39" height="3.00" fill="#f1d8c9" />
<rect x="233.30" y="79.00" width="12.39" height="3.00" fill="#eeb49a" />
<rect x="233.30" y="82.00" width="12.39" height="3.00" fill="#eeb49a" />
<rect x="233.30" y="85.00" width="12.39" height="2.00" fill="#f1d8c9" />
<rect x="233.30" y="87.00" width="12.39" height="3.00" fill="#d9826c" />
<rect x="233.30" y="90.00" width="12.39" height="3.00" fill="#eeb49a" />
<rect x="233.30" y="93.00" width="12.39" height="3.00" fill="#eeb49a" />
<rect x="233.30" y="96.00" width="12.39" height="3.00" fill="#d9826c" />
<rect x="233.30" y="110.00" width="12.39" height="3.00" fill="#eeb49a" />
<rect x="233.30" y="113.00" width="12.39" height="2.70" fill="#f1d8c9" />
<rect x="233.30" y="115.70" width="12.39" height="4.80" fill="#d9826c" />
<rect x="233.30" y="120.50" width="12.39" height="2.90" fill="#f1d8c9" />
<rect x="233.30" y="123.40" width="12.39" height="5.60" fill="#eeb49a" />
<rect x="233.30" y="129.00" width="12.39" height="3.00" fill="#f1d8c9" />
<rect x="233.30" y="132.00" width="12.39" height="3.00" fill="#eeb49a" />
<rect x="233.30" y="140.00" width="12.39" height="2.00" fill="#f1d8c9" />
<rect x="233.30" y="145.00" width="12.39" height="2.00" fill="#f1d8c9" />
<rect x="233.30" y="160.50" width="12.39" height="2.90" fill="#f1d8c9" />
<rect x="233.30" y="166.00" width="12.39" height="3.00" fill="#f1d8c9" />
<rect x="233.30" y="198.60" width="12.39" height="2.90" fill="#eeb49a" />
<rect x="233.30" y="203.40" width="12.39" height="3.80" fill="#d9826c" />
<rect x="233.30" y="207.20" width="12.39" height="5.80" fill="#f1d8c9" />
<rect x="233.30" y="213.00" width="12.39" height="2.00" fill="#eeb49a" />
<rect x="233.30" y="215.00" width="12.39" height="3.00" fill="#f1d8c9" />
<rect x="233.30" y="222.00" width="12.39" height="2.00" fill="#f1d8c9" />
<rect x="233.30" y="226.00" width="12.39" height="2.00" fill="#f1d8c9" />
<rect x="233.30" y="279.50" width="12.39" height="2.00" fill="#f1d8c9" />
<rect x="233.30" y="323.50" width="12.39" height="2.00" fill="#f1d8c9" />
<rect x="233.30" y="333.00" width="12.39" height="2.00" fill="#f1d8c9" />
<rect x="233.30" y="350.00" width="12.39" height="3.00" fill="#f1d8c9" />
<rect x="233.30" y="375.00" width="12.39" height="2.00" fill="#9c1a2e" />
<rect x="233.30" y="380.00" width="12.39" height="2.00" fill="#f1d8c9" />
<rect x="233.30" y="388.00" width="12.39" height="2.00" fill="#f1d8c9" />
<rect x="245.69" y="70.80" width="12.39" height="1.20" fill="#f1d8c9" />
<rect x="245.69" y="72.00" width="12.39" height="7.00" fill="#d9826c" />
<rect x="245.69" y="79.00" width="12.39" height="3.00" fill="#eeb49a" />
<rect x="245.69" y="82.00" width="12.39" height="5.00" fill="#f1d8c9" />
<rect x="245.69" y="87.00" width="12.39" height="6.00" fill="#b93c3f" />
<rect x="245.69" y="93.00" width="12.39" height="6.00" fill="#eeb49a" />
<rect x="245.69" y="108.00" width="12.39" height="2.00" fill="#f1d8c9" />
<rect x="245.69" y="110.00" width="12.39" height="4.70" fill="#d9826c" />
<rect x="245.69" y="114.70" width="12.39" height="2.90" fill="#eeb49a" />
<rect x="245.69" y="117.60" width="12.39" height="9.60" fill="#d9826c" />
<rect x="245.69" y="127.20" width="12.39" height="3.80" fill="#f1d8c9" />
<rect x="245.69" y="131.00" width="12.39" height="4.00" fill="#d9826c" />
<rect x="245.69" y="135.00" width="12.39" height="4.00" fill="#eeb49a" />
<rect x="245.69" y="139.00" width="12.39" height="5.50" fill="#eeb49a" />
<rect x="245.69" y="144.50" width="12.39" height="5.50" fill="#f1d8c9" />
<rect x="245.69" y="151.00" width="12.39" height="2.80" fill="#eeb49a" />
<rect x="245.69" y="159.50" width="12.39" height="3.90" fill="#eeb49a" />
<rect x="245.69" y="166.00" width="12.39" height="4.00" fill="#eeb49a" />
<rect x="245.69" y="174.00" width="12.39" height="2.00" fill="#f1d8c9" />
<rect x="245.69" y="198.60" width="12.39" height="7.70" fill="#9c1a2e" />
<rect x="245.69" y="206.30" width="12.39" height="4.70" fill="#f1d8c9" />
<rect x="245.69" y="211.00" width="12.39" height="4.00" fill="#d9826c" />
<rect x="245.69" y="215.80" width="12.39" height="3.00" fill="#eeb49a" />
<rect x="245.69" y="223.60" width="12.39" height="3.80" fill="#eeb49a" />
<rect x="245.69" y="228.00" width="12.39" height="1.00" fill="#eeb49a" />
<rect x="245.69" y="231.80" width="12.39" height="3.90" fill="#f1d8c9" />
<rect x="245.69" y="236.70" width="12.39" height="2.80" fill="#aacbdd" />
<rect x="245.69" y="240.50" width="12.39" height="4.80" fill="#f1d8c9" />
<rect x="245.69" y="270.00" width="12.39" height="1.80" fill="#aacbdd" />
<rect x="245.69" y="280.50" width="12.39" height="1.90" fill="#f1d8c9" />
<rect x="245.69" y="302.60" width="12.39" height="1.90" fill="#f1d8c9" />
<rect x="245.69" y="322.40" width="12.39" height="2.90" fill="#eeb49a" />
<rect x="245.69" y="327.20" width="12.39" height="2.00" fill="#f1d8c9" />
<rect x="245.69" y="333.00" width="12.39" height="2.00" fill="#f1d8c9" />
<rect x="245.69" y="355.70" width="12.39" height="3.80" fill="#e6e4e2" />
<rect x="245.69" y="376.80" width="12.39" height="3.90" fill="#e6e4e2" />
<rect x="245.69" y="388.80" width="12.39" height="2.90" fill="#eeb49a" />
<rect x="245.69" y="403.00" width="12.39" height="3.00" fill="#eeb49a" />
<rect x="258.08" y="70.80" width="12.39" height="4.20" fill="#d9826c" />
<rect x="258.08" y="75.00" width="12.39" height="4.00" fill="#eeb49a" />
<rect x="258.08" y="79.00" width="12.39" height="3.00" fill="#d9826c" />
<rect x="258.08" y="82.00" width="12.39" height="3.00" fill="#e6e4e2" />
<rect x="258.08" y="85.00" width="12.39" height="2.00" fill="#eeb49a" />
<rect x="258.08" y="87.00" width="12.39" height="6.00" fill="#d9826c" />
<rect x="258.08" y="93.00" width="12.39" height="6.00" fill="#eeb49a" />
<rect x="258.08" y="108.00" width="12.39" height="2.00" fill="#f1d8c9" />
<rect x="258.08" y="110.00" width="12.39" height="3.80" fill="#eeb49a" />
<rect x="258.08" y="113.80" width="12.39" height="3.80" fill="#d9826c" />
<rect x="258.08" y="117.60" width="12.39" height="5.80" fill="#f1d8c9" />
<rect x="258.08" y="123.40" width="12.39" height="5.60" fill="#eeb49a" />
<rect x="258.08" y="129.00" width="12.39" height="6.00" fill="#e6e4e2" />
<rect x="258.08" y="135.00" width="12.39" height="4.00" fill="#eeb49a" />
<rect x="258.08" y="139.00" width="12.39" height="11.00" fill="#f1d8c9" />
<rect x="258.08" y="159.50" width="12.39" height="3.90" fill="#f1d8c9" />
<rect x="258.08" y="202.40" width="12.39" height="1.90" fill="#eeb49a" />
<rect x="258.08" y="205.30" width="12.39" height="3.70" fill="#eeb49a" />
<rect x="258.08" y="223.60" width="12.39" height="3.80" fill="#f1d8c9" />
<rect x="258.08" y="235.70" width="12.39" height="1.90" fill="#eeb49a" />
<rect x="258.08" y="237.60" width="12.39" height="7.70" fill="#e6e4e2" />
<rect x="258.08" y="246.30" width="12.39" height="1.90" fill="#eeb49a" />
<rect x="258.08" y="256.80" width="12.39" height="1.60" fill="#d9826c" />
<rect x="258.08" y="265.50" width="12.39" height="2.90" fill="#f1d8c9" />
<rect x="258.08" y="282.40" width="12.39" height="1.90" fill="#eeb49a" />
<rect x="258.08" y="291.00" width="12.39" height="2.00" fill="#f1d8c9" />
<rect x="258.08" y="303.60" width="12.39" height="1.90" fill="#f1d8c9" />
<rect x="258.08" y="309.00" width="12.39" height="2.00" fill="#e6e4e2" />
<rect x="258.08" y="320.50" width="12.39" height="2.90" fill="#d9826c" />
<rect x="258.08" y="355.70" width="12.39" height="3.80" fill="#e6e4e2" />
<rect x="258.08" y="379.70" width="12.39" height="2.00" fill="#f1d8c9" />
<rect x="258.08" y="384.50" width="12.39" height="4.80" fill="#f1d8c9" />
<rect x="258.08" y="389.30" width="12.39" height="2.40" fill="#eeb49a" />
<rect x="270.46" y="70.80" width="12.39" height="5.20" fill="#9c1a2e" />
<rect x="270.46" y="76.00" width="12.39" height="11.50" fill="#7c0f25" />
<rect x="270.46" y="87.50" width="12.39" height="1.50" fill="#f1d8c9" />
<rect x="270.46" y="89.00" width="12.39" height="2.00" fill="#d9826c" />
<rect x="270.46" y="91.00" width="12.39" height="2.00" fill="#b93c3f" />
<rect x="270.46" y="93.00" width="12.39" height="2.00" fill="#d9826c" />
<rect x="270.46" y="95.00" width="12.39" height="4.00" fill="#eeb49a" />
<rect x="270.46" y="108.00" width="12.39" height="5.80" fill="#aacbdd" />
<rect x="270.46" y="113.80" width="12.39" height="9.60" fill="#f1d8c9" />
<rect x="270.46" y="123.40" width="12.39" height="3.80" fill="#eeb49a" />
<rect x="270.46" y="127.20" width="12.39" height="7.80" fill="#d9826c" />
<rect x="270.46" y="140.70" width="12.39" height="9.30" fill="#f1d8c9" />
<rect x="270.46" y="153.80" width="12.39" height="1.90" fill="#f1d8c9" />
<rect x="270.46" y="188.00" width="12.39" height="3.00" fill="#e6e4e2" />
<rect x="270.46" y="203.40" width="12.39" height="1.90" fill="#f1d8c9" />
<rect x="270.46" y="216.80" width="12.39" height="2.90" fill="#d9826c" />
<rect x="270.46" y="223.60" width="12.39" height="3.80" fill="#eeb49a" />
<rect x="270.46" y="228.00" width="12.39" height="1.00" fill="#eeb49a" />
<rect x="270.46" y="236.70" width="12.39" height="5.70" fill="#d9826c" />
<rect x="270.46" y="242.40" width="12.39" height="3.90" fill="#b93c3f" />
<rect x="270.46" y="270.00" width="12.39" height="1.80" fill="#f1d8c9" />
<rect x="270.46" y="280.50" width="12.39" height="1.90" fill="#d9826c" />
<rect x="270.46" y="291.00" width="12.39" height="2.00" fill="#f1d8c9" />
<rect x="270.46" y="301.70" width="12.39" height="1.90" fill="#e6e4e2" />
<rect x="270.46" y="324.30" width="12.39" height="1.70" fill="#eeb49a" />
<rect x="270.46" y="326.00" width="12.39" height="2.00" fill="#d9826c" />
<rect x="270.46" y="328.00" width="12.39" height="1.20" fill="#eeb49a" />
<rect x="270.46" y="334.00" width="12.39" height="3.00" fill="#f1d8c9" />
<rect x="270.46" y="353.80" width="12.39" height="1.90" fill="#f1d8c9" />
<rect x="270.46" y="373.00" width="12.39" height="3.80" fill="#eeb49a" />
<rect x="270.46" y="382.60" width="12.39" height="1.90" fill="#d9826c" />
<rect x="270.46" y="386.00" width="12.39" height="2.80" fill="#d9826c" />
<rect x="270.46" y="388.80" width="12.39" height="2.90" fill="#eeb49a" />
<rect x="270.46" y="401.00" width="12.39" height="5.00" fill="#e6e4e2" />
<rect x="282.85" y="99.00" width="12.39" height="2.70" fill="#b93c3f" />
<rect x="282.85" y="101.70" width="12.39" height="8.60" fill="#7c0f25" />
<rect x="282.85" y="110.30" width="12.39" height="5.40" fill="#f1d8c9" />
<rect x="282.85" y="115.70" width="12.39" height="4.30" fill="#e6e4e2" />
<rect x="282.85" y="120.00" width="12.39" height="7.50" fill="#f1d8c9" />
<rect x="282.85" y="127.50" width="12.39" height="2.30" fill="#9c1a2e" />
<rect x="282.85" y="129.80" width="12.39" height="5.20" fill="#eeb49a" />
<rect x="282.85" y="135.00" width="12.39" height="5.20" fill="#d9826c" />
<rect x="282.85" y="140.20" width="12.39" height="8.60" fill="#eeb49a" />
<rect x="282.85" y="148.80" width="12.39" height="4.00" fill="#eeb49a" />
<rect x="282.85" y="152.80" width="12.39" height="5.80" fill="#d9826c" />
<rect x="282.85" y="158.60" width="12.39" height="2.90" fill="#f1d8c9" />
<rect x="282.85" y="161.50" width="12.39" height="4.50" fill="#eeb49a" />
<rect x="282.85" y="166.00" width="12.39" height="6.00" fill="#eeb49a" />
<rect x="282.85" y="172.00" width="12.39" height="2.00" fill="#d9826c" />
<rect x="282.85" y="174.00" width="12.39" height="2.00" fill="#f1d8c9" />
<rect x="282.85" y="177.00" width="12.39" height="2.00" fill="#eeb49a" />
<rect x="282.85" y="181.70" width="12.39" height="3.80" fill="#d9826c" />
<rect x="282.85" y="185.50" width="12.39" height="2.50" fill="#eeb49a" />
<rect x="282.85" y="188.00" width="12.39" height="3.00" fill="#c3d9e4" />
<rect x="282.85" y="191.00" width="12.39" height="4.70" fill="#f1d8c9" />
<rect x="282.85" y="195.70" width="12.39" height="2.90" fill="#eeb49a" />
<rect x="282.85" y="231.80" width="12.39" height="2.00" fill="#aacbdd" />
<rect x="282.85" y="235.70" width="12.39" height="1.90" fill="#e6e4e2" />
<rect x="282.85" y="238.60" width="12.39" height="1.90" fill="#eeb49a" />
<rect x="282.85" y="240.50" width="12.39" height="1.90" fill="#aacbdd" />
<rect x="282.85" y="251.00" width="12.39" height="2.00" fill="#aacbdd" />
<rect x="282.85" y="264.50" width="12.39" height="2.90" fill="#aacbdd" />
<rect x="282.85" y="305.50" width="12.39" height="5.50" fill="#d9826c" />
<rect x="282.85" y="318.60" width="12.39" height="3.80" fill="#aacbdd" />
<rect x="282.85" y="322.40" width="12.39" height="1.90" fill="#d9826c" />
<rect x="282.85" y="353.80" width="12.39" height="1.90" fill="#f1d8c9" />
<rect x="282.85" y="371.00" width="12.39" height="2.00" fill="#e6e4e2" />
<rect x="282.85" y="379.70" width="12.39" height="2.00" fill="#f1d8c9" />
<rect x="282.85" y="385.50" width="12.39" height="5.30" fill="#aacbdd" />
<rect x="282.85" y="395.60" width="12.39" height="1.90" fill="#f1d8c9" />
<rect x="282.85" y="400.00" width="12.39" height="5.00" fill="#aacbdd" />
<rect x="295.24" y="100.00" width="12.39" height="6.00" fill="#b93c3f" />
<rect x="295.24" y="106.00" width="12.39" height="4.90" fill="#f1d8c9" />
<rect x="295.24" y="110.90" width="12.39" height="7.70" fill="#9c1a2e" />
<rect x="295.24" y="118.60" width="12.39" height="1.40" fill="#eeb49a" />
<rect x="295.24" y="120.00" width="12.39" height="7.50" fill="#d9826c" />
<rect x="295.24" y="127.50" width="12.39" height="2.30" fill="#e6e4e2" />
<rect x="295.24" y="129.80" width="12.39" height="1.70" fill="#d9826c" />
<rect x="295.24" y="131.50" width="12.39" height="3.50" fill="#e6e4e2" />
<rect x="295.24" y="135.00" width="12.39" height="10.40" fill="#9c1a2e" />
<rect x="295.24" y="145.40" width="12.39" height="3.40" fill="#7c0f25" />
<rect x="295.24" y="148.80" width="12.39" height="10.40" fill="#9c1a2e" />
<rect x="295.24" y="159.20" width="12.39" height="2.80" fill="#b93c3f" />
<rect x="295.24" y="162.00" width="12.39" height="3.00" fill="#d9826c" />
<rect x="295.24" y="165.00" width="12.39" height="4.00" fill="#c85c4d" />
<rect x="295.24" y="169.00" width="12.39" height="3.50" fill="#d9826c" />
<rect x="295.24" y="172.50" width="12.39" height="2.30" fill="#9c1a2e" />
<rect x="295.24" y="174.80" width="12.39" height="2.90" fill="#d9826c" />
<rect x="295.24" y="183.60" width="12.39" height="1.90" fill="#f1d8c9" />
<rect x="295.24" y="195.70" width="12.39" height="1.90" fill="#d9826c" />
<rect x="295.24" y="198.60" width="12.39" height="1.90" fill="#f1d8c9" />
<rect x="295.24" y="221.60" width="12.39" height="2.00" fill="#f1d8c9" />
<rect x="295.24" y="231.80" width="12.39" height="2.00" fill="#aacbdd" />
<rect x="295.24" y="237.60" width="12.39" height="4.80" fill="#d9826c" />
<rect x="295.24" y="242.40" width="12.39" height="2.90" fill="#f1d8c9" />
<rect x="295.24" y="251.00" width="12.39" height="2.00" fill="#aacbdd" />
<rect x="295.24" y="268.00" width="12.39" height="2.00" fill="#f1d8c9" />
<rect x="295.24" y="291.00" width="12.39" height="2.00" fill="#eeb49a" />
<rect x="295.24" y="302.60" width="12.39" height="2.90" fill="#9c1a2e" />
<rect x="295.24" y="305.50" width="12.39" height="4.50" fill="#f1d8c9" />
<rect x="295.24" y="319.50" width="12.39" height="2.90" fill="#aacbdd" />
<rect x="295.24" y="353.80" width="12.39" height="1.90" fill="#f1d8c9" />
<rect x="295.24" y="373.00" width="12.39" height="2.00" fill="#aacbdd" />
<rect x="295.24" y="387.00" width="12.39" height="3.80" fill="#aacbdd" />
<rect x="295.24" y="400.00" width="12.39" height="5.00" fill="#aacbdd" />
<rect x="295.24" y="408.00" width="12.39" height="3.00" fill="#aacbdd" />
<rect x="307.63" y="70.80" width="12.39" height="1.60" fill="#d9826c" />
<rect x="307.63" y="89.00" width="12.39" height="2.00" fill="#f1d8c9" />
<rect x="307.63" y="98.00" width="12.39" height="2.00" fill="#eeb49a" />
<rect x="307.63" y="108.00" width="12.39" height="2.00" fill="#eeb49a" />
<rect x="307.63" y="115.70" width="12.39" height="1.90" fill="#c3d9e4" />
<rect x="307.63" y="117.60" width="12.39" height="2.40" fill="#d9826c" />
<rect x="307.63" y="120.00" width="12.39" height="3.50" fill="#f1d8c9" />
<rect x="307.63" y="123.50" width="12.39" height="3.50" fill="#eeb49a" />
<rect x="307.63" y="135.00" width="12.39" height="10.40" fill="#f1d8c9" />
<rect x="307.63" y="145.40" width="12.39" height="18.40" fill="#e6e4e2" />
<rect x="307.63" y="163.80" width="12.39" height="5.80" fill="#d9826c" />
<rect x="307.63" y="169.60" width="12.39" height="2.40" fill="#f1d8c9" />
<rect x="307.63" y="172.00" width="12.39" height="3.00" fill="#e6e4e2" />
<rect x="307.63" y="175.00" width="12.39" height="2.00" fill="#eeb49a" />
<rect x="307.63" y="188.00" width="12.39" height="2.00" fill="#eeb49a" />
<rect x="307.63" y="190.00" width="12.39" height="8.60" fill="#7c0f25" />
<rect x="307.63" y="198.60" width="12.39" height="1.90" fill="#e6e4e2" />
<rect x="307.63" y="200.50" width="12.39" height="3.80" fill="#d9826c" />
<rect x="307.63" y="204.30" width="12.39" height="2.00" fill="#e6e4e2" />
<rect x="307.63" y="206.30" width="12.39" height="4.70" fill="#9c1a2e" />
<rect x="307.63" y="211.00" width="12.39" height="5.00" fill="#b93c3f" />
<rect x="307.63" y="216.00" width="12.39" height="2.80" fill="#d9826c" />
<rect x="307.63" y="219.70" width="12.39" height="2.90" fill="#eeb49a" />
<rect x="307.63" y="241.50" width="12.39" height="7.50" fill="#f1d8c9" />
<rect x="307.63" y="265.50" width="12.39" height="1.90" fill="#aacbdd" />
<rect x="307.63" y="270.00" width="12.39" height="1.80" fill="#d9826c" />
<rect x="307.63" y="293.00" width="12.39" height="7.00" fill="#e6e4e2" />
<rect x="307.63" y="301.70" width="12.39" height="3.80" fill="#b93c3f" />
<rect x="307.63" y="323.40" width="12.39" height="2.90" fill="#eeb49a" />
<rect x="307.63" y="344.50" width="12.39" height="2.90" fill="#f1d8c9" />
<rect x="307.63" y="348.00" width="12.39" height="2.00" fill="#f1d8c9" />
<rect x="307.63" y="356.70" width="12.39" height="1.90" fill="#e6e4e2" />
<rect x="307.63" y="360.50" width="12.39" height="1.90" fill="#e6e4e2" />
<rect x="307.63" y="369.00" width="12.39" height="2.00" fill="#eeb49a" />
<rect x="307.63" y="371.00" width="12.39" height="3.00" fill="#e6e4e2" />
<rect x="307.63" y="380.00" width="12.39" height="1.70" fill="#eeb49a" />
<rect x="307.63" y="381.70" width="12.39" height="4.80" fill="#b93c3f" />
<rect x="307.63" y="386.50" width="12.39" height="4.30" fill="#e6e4e2" />
<rect x="307.63" y="395.60" width="12.39" height="1.90" fill="#f1d8c9" />
<rect x="307.63" y="400.00" width="12.39" height="5.00" fill="#aacbdd" />
<rect x="307.63" y="407.00" width="12.39" height="3.00" fill="#e6e4e2" />
<rect x="320.02" y="79.00" width="12.39" height="1.00" fill="#f1d8c9" />
<rect x="320.02" y="96.00" width="12.39" height="2.00" fill="#f1d8c9" />
<rect x="320.02" y="108.00" width="12.39" height="9.60" fill="#f1d8c9" />
<rect x="320.02" y="117.60" width="12.39" height="8.20" fill="#eeb49a" />
<rect x="320.02" y="125.80" width="12.39" height="4.00" fill="#e6e4e2" />
<rect x="320.02" y="129.80" width="12.39" height="5.20" fill="#d9826c" />
<rect x="320.02" y="135.00" width="12.39" height="15.00" fill="#f1d8c9" />
<rect x="320.02" y="150.00" width="12.39" height="2.30" fill="#d9826c" />
<rect x="320.02" y="152.30" width="12.39" height="6.90" fill="#eeb49a" />
<rect x="320.02" y="159.20" width="12.39" height="4.60" fill="#d9826c" />
<rect x="320.02" y="163.80" width="12.39" height="10.40" fill="#b93c3f" />
<rect x="320.02" y="174.20" width="12.39" height="3.50" fill="#d9826c" />
<rect x="320.02" y="177.70" width="12.39" height="12.30" fill="#7c0f25" />
<rect x="320.02" y="190.00" width="12.39" height="1.00" fill="#9c1a2e" />
<rect x="320.02" y="191.00" width="12.39" height="4.70" fill="#e6e4e2" />
<rect x="320.02" y="195.70" width="12.39" height="6.70" fill="#d9826c" />
<rect x="320.02" y="202.40" width="12.39" height="2.90" fill="#eeb49a" />
<rect x="320.02" y="205.30" width="12.39" height="3.70" fill="#d9826c" />
<rect x="320.02" y="209.00" width="12.39" height="3.00" fill="#eeb49a" />
<rect x="320.02" y="212.00" width="12.39" height="3.00" fill="#d9826c" />
<rect x="320.02" y="215.00" width="12.39" height="2.80" fill="#b93c3f" />
<rect x="320.02" y="217.80" width="12.39" height="2.20" fill="#e6e4e2" />
<rect x="320.02" y="235.70" width="12.39" height="4.80" fill="#eeb49a" />
<rect x="320.02" y="240.50" width="12.39" height="4.80" fill="#aacbdd" />
<rect x="320.02" y="253.00" width="12.39" height="4.00" fill="#f1d8c9" />
<rect x="320.02" y="265.50" width="12.39" height="5.50" fill="#b93c3f" />
<rect x="320.02" y="271.00" width="12.39" height="2.00" fill="#e6e4e2" />
<rect x="320.02" y="294.00" width="12.39" height="3.00" fill="#f1d8c9" />
<rect x="320.02" y="305.50" width="12.39" height="5.50" fill="#eeb49a" />
<rect x="320.02" y="311.00" width="12.39" height="2.80" fill="#b93c3f" />
<rect x="320.02" y="319.50" width="12.39" height="2.90" fill="#aacbdd" />
<rect x="320.02" y="322.40" width="12.39" height="3.90" fill="#e6e4e2" />
<rect x="320.02" y="373.00" width="12.39" height="2.00" fill="#aacbdd" />
<rect x="320.02" y="388.00" width="12.39" height="2.00" fill="#eeb49a" />
<rect x="320.02" y="391.70" width="12.39" height="1.90" fill="#f1d8c9" />
<rect x="320.02" y="400.00" width="12.39" height="5.00" fill="#aacbdd" />
<rect x="332.41" y="70.80" width="12.39" height="1.00" fill="#eeb49a" />
<rect x="332.41" y="94.30" width="12.39" height="3.40" fill="#f1d8c9" />
<rect x="332.41" y="105.40" width="12.39" height="1.10" fill="#d9826c" />
<rect x="332.41" y="133.00" width="12.39" height="2.20" fill="#c3d9e4" />
<rect x="332.41" y="148.00" width="12.39" height="2.00" fill="#eeb49a" />
<rect x="332.41" y="157.00" width="12.39" height="2.00" fill="#f1d8c9" />
<rect x="332.41" y="175.60" width="12.39" height="2.40" fill="#d9826c" />
<rect x="332.41" y="181.00" width="12.39" height="2.00" fill="#f1d8c9" />
<rect x="332.41" y="186.70" width="12.39" height="3.30" fill="#f1d8c9" />
<rect x="332.41" y="221.00" width="12.39" height="2.00" fill="#e6e4e2" />
<rect x="332.41" y="227.80" width="12.39" height="4.60" fill="#7c0f25" />
<rect x="332.41" y="232.40" width="12.39" height="2.20" fill="#e6e4e2" />
<rect x="332.41" y="234.60" width="12.39" height="4.40" fill="#b93c3f" />
<rect x="332.41" y="239.00" width="12.39" height="3.40" fill="#e6e4e2" />
<rect x="332.41" y="242.40" width="12.39" height="3.30" fill="#d9826c" />
<rect x="332.41" y="245.70" width="12.39" height="4.30" fill="#e6e4e2" />
<rect x="332.41" y="250.00" width="12.39" height="3.40" fill="#f1d8c9" />
<rect x="332.41" y="253.40" width="12.39" height="5.60" fill="#e6e4e2" />
<rect x="332.41" y="259.00" width="12.39" height="2.00" fill="#f1d8c9" />
<rect x="332.41" y="261.00" width="12.39" height="7.00" fill="#e6e4e2" />
<rect x="332.41" y="268.00" width="12.39" height="3.30" fill="#d9826c" />
<rect x="332.41" y="271.30" width="12.39" height="4.40" fill="#eeb49a" />
<rect x="332.41" y="275.70" width="12.39" height="4.30" fill="#b93c3f" />
<rect x="332.41" y="280.00" width="12.39" height="3.50" fill="#d9826c" />
<rect x="332.41" y="283.50" width="12.39" height="6.50" fill="#c85c4d" />
<rect x="332.41" y="290.00" width="12.39" height="3.40" fill="#e6e4e2" />
<rect x="332.41" y="293.40" width="12.39" height="5.60" fill="#d9826c" />
<rect x="332.41" y="299.00" width="12.39" height="3.30" fill="#eeb49a" />
<rect x="332.41" y="302.30" width="12.39" height="7.70" fill="#e6e4e2" />
<rect x="332.41" y="310.00" width="12.39" height="3.50" fill="#eeb49a" />
<rect x="332.41" y="313.50" width="12.39" height="3.50" fill="#e6e4e2" />
<rect x="332.41" y="318.00" width="12.39" height="2.00" fill="#eeb49a" />
<rect x="332.41" y="320.00" width="12.39" height="2.40" fill="#e6e4e2" />
<rect x="332.41" y="322.40" width="12.39" height="2.20" fill="#aacbdd" />
<rect x="332.41" y="343.40" width="12.39" height="2.20" fill="#f1d8c9" />
<rect x="332.41" y="361.30" width="12.39" height="4.40" fill="#eeb49a" />
<rect x="332.41" y="370.00" width="12.39" height="4.50" fill="#f1d8c9" />
<rect x="332.41" y="385.00" width="12.39" height="3.30" fill="#eeb49a" />
<rect x="332.41" y="400.50" width="12.39" height="3.30" fill="#eeb49a" />
<rect x="332.41" y="407.00" width="12.39" height="2.00" fill="#f1d8c9" />
<rect x="344.79" y="94.30" width="12.39" height="4.50" fill="#d9826c" />
<rect x="344.79" y="181.00" width="12.39" height="2.00" fill="#eeb49a" />
<rect x="344.79" y="219.00" width="12.39" height="10.00" fill="#7c0f25" />
<rect x="344.79" y="229.00" width="12.39" height="1.00" fill="#9c1a2e" />
<rect x="344.79" y="230.00" width="12.39" height="3.50" fill="#d9826c" />
<rect x="344.79" y="233.50" width="12.39" height="6.50" fill="#e6e4e2" />
<rect x="344.79" y="240.00" width="12.39" height="8.00" fill="#eeb49a" />
<rect x="344.79" y="248.00" width="12.39" height="6.50" fill="#eeb49a" />
<rect x="344.79" y="254.50" width="12.39" height="6.50" fill="#eeb49a" />
<rect x="344.79" y="261.00" width="12.39" height="4.60" fill="#d9826c" />
<rect x="344.79" y="265.60" width="12.39" height="4.40" fill="#e6e4e2" />
<rect x="344.79" y="270.00" width="12.39" height="6.80" fill="#e6e4e2" />
<rect x="344.79" y="276.80" width="12.39" height="3.20" fill="#eeb49a" />
<rect x="344.79" y="280.00" width="12.39" height="5.70" fill="#e6e4e2" />
<rect x="344.79" y="285.70" width="12.39" height="6.60" fill="#eeb49a" />
<rect x="344.79" y="292.30" width="12.39" height="6.70" fill="#b93c3f" />
<rect x="344.79" y="299.00" width="12.39" height="3.30" fill="#eeb49a" />
<rect x="344.79" y="302.30" width="12.39" height="7.70" fill="#e6e4e2" />
<rect x="344.79" y="313.50" width="12.39" height="3.30" fill="#f1d8c9" />
<rect x="344.79" y="316.80" width="12.39" height="4.50" fill="#f1d8c9" />
<rect x="344.79" y="323.50" width="12.39" height="2.20" fill="#aacbdd" />
<rect x="344.79" y="370.00" width="12.39" height="4.50" fill="#f1d8c9" />
<rect x="344.79" y="385.00" width="12.39" height="3.30" fill="#c3d9e4" />
<rect x="357.18" y="94.30" width="12.39" height="4.50" fill="#d9826c" />
<rect x="357.18" y="148.00" width="12.39" height="1.50" fill="#eeb49a" />
<rect x="357.18" y="174.50" width="12.39" height="4.00" fill="#d9826c" />
<rect x="357.18" y="186.70" width="12.39" height="1.30" fill="#e6e4e2" />
<rect x="357.18" y="188.00" width="12.39" height="2.00" fill="#f1d8c9" />
<rect x="357.18" y="222.30" width="12.39" height="3.30" fill="#eeb49a" />
<rect x="357.18" y="228.00" width="12.39" height="5.50" fill="#f1d8c9" />
<rect x="357.18" y="236.80" width="12.39" height="3.40" fill="#d9826c" />
<rect x="357.18" y="240.20" width="12.39" height="3.30" fill="#b93c3f" />
<rect x="357.18" y="243.50" width="12.39" height="2.20" fill="#eeb49a" />
<rect x="357.18" y="245.70" width="12.39" height="11.10" fill="#7c0f25" />
<rect x="357.18" y="256.80" width="12.39" height="3.20" fill="#d9826c" />
<rect x="357.18" y="260.00" width="12.39" height="4.50" fill="#b93c3f" />
<rect x="357.18" y="264.50" width="12.39" height="3.50" fill="#d9826c" />
<rect x="357.18" y="268.00" width="12.39" height="8.80" fill="#9c1a2e" />
<rect x="357.18" y="276.80" width="12.39" height="3.20" fill="#b93c3f" />
<rect x="357.18" y="280.00" width="12.39" height="11.20" fill="#9c1a2e" />
<rect x="357.18" y="291.20" width="12.39" height="3.30" fill="#d9826c" />
<rect x="357.18" y="294.50" width="12.39" height="5.50" fill="#b93c3f" />
<rect x="357.18" y="300.00" width="12.39" height="2.00" fill="#eeb49a" />
<rect x="357.18" y="313.50" width="12.39" height="3.30" fill="#d9826c" />
<rect x="357.18" y="316.80" width="12.39" height="4.50" fill="#eeb49a" />
<rect x="357.18" y="361.30" width="12.39" height="7.70" fill="#9c1a2e" />
<rect x="357.18" y="369.00" width="12.39" height="5.50" fill="#d9826c" />
<rect x="357.18" y="385.60" width="12.39" height="3.40" fill="#eeb49a" />
<rect x="357.18" y="394.00" width="12.39" height="2.00" fill="#eeb49a" />
<rect x="357.18" y="400.50" width="12.39" height="3.30" fill="#f1d8c9" />
<rect x="369.57" y="93.20" width="12.39" height="1.60" fill="#d9826c" />
<rect x="369.57" y="94.80" width="12.39" height="4.00" fill="#f1d8c9" />
<rect x="369.57" y="105.40" width="12.39" height="1.30" fill="#f1d8c9" />
<rect x="369.57" y="133.00" width="12.39" height="2.20" fill="#aacbdd" />
<rect x="369.57" y="157.00" width="12.39" height="2.00" fill="#f1d8c9" />
<rect x="369.57" y="174.50" width="12.39" height="4.00" fill="#e6e4e2" />
<rect x="369.57" y="218.50" width="12.39" height="2.20" fill="#b93c3f" />
<rect x="369.57" y="220.70" width="12.39" height="3.80" fill="#f1d8c9" />
<rect x="369.57" y="228.00" width="12.39" height="4.40" fill="#e6e4e2" />
<rect x="369.57" y="232.40" width="12.39" height="2.20" fill="#f1d8c9" />
<rect x="369.57" y="236.80" width="12.39" height="8.90" fill="#e6e4e2" />
<rect x="369.57" y="245.70" width="12.39" height="6.60" fill="#d9826c" />
<rect x="369.57" y="252.30" width="12.39" height="4.50" fill="#e6e4e2" />
<rect x="369.57" y="256.80" width="12.39" height="5.50" fill="#9c1a2e" />
<rect x="369.57" y="262.30" width="12.39" height="5.70" fill="#d9826c" />
<rect x="369.57" y="268.00" width="12.39" height="4.40" fill="#eeb49a" />
<rect x="369.57" y="272.40" width="12.39" height="13.30" fill="#f1d8c9" />
<rect x="369.57" y="285.70" width="12.39" height="6.60" fill="#eeb49a" />
<rect x="369.57" y="292.30" width="12.39" height="4.50" fill="#d9826c" />
<rect x="369.57" y="296.80" width="12.39" height="4.20" fill="#eeb49a" />
<rect x="369.57" y="301.00" width="12.39" height="9.00" fill="#e6e4e2" />
<rect x="369.57" y="316.80" width="12.39" height="4.50" fill="#e6e4e2" />
<rect x="369.57" y="323.50" width="12.39" height="2.20" fill="#aacbdd" />
<rect x="369.57" y="362.40" width="12.39" height="3.30" fill="#f1d8c9" />
<rect x="369.57" y="369.00" width="12.39" height="3.40" fill="#e6e4e2" />
<rect x="369.57" y="406.00" width="12.39" height="2.00" fill="#eeb49a" />
<rect x="381.96" y="94.80" width="12.39" height="3.50" fill="#aacbdd" />
<rect x="381.96" y="133.00" width="12.39" height="2.20" fill="#e6e4e2" />
<rect x="381.96" y="174.50" width="12.39" height="4.00" fill="#aacbdd" />
<rect x="381.96" y="188.00" width="12.39" height="2.00" fill="#f1d8c9" />
<rect x="381.96" y="221.00" width="12.39" height="2.40" fill="#eeb49a" />
<rect x="381.96" y="236.80" width="12.39" height="3.20" fill="#aacbdd" />
<rect x="381.96" y="250.00" width="12.39" height="2.30" fill="#aacbdd" />
<rect x="381.96" y="265.60" width="12.39" height="2.40" fill="#aacbdd" />
<rect x="381.96" y="301.20" width="12.39" height="3.30" fill="#eeb49a" />
<rect x="381.96" y="304.50" width="12.39" height="3.50" fill="#b93c3f" />
<rect x="381.96" y="308.00" width="12.39" height="4.40" fill="#d9826c" />
<rect x="381.96" y="312.40" width="12.39" height="4.40" fill="#d9826c" />
<rect x="381.96" y="316.80" width="12.39" height="3.20" fill="#b93c3f" />
<rect x="381.96" y="320.00" width="12.39" height="3.50" fill="#d9826c" />
<rect x="381.96" y="323.50" width="12.39" height="5.50" fill="#d9826c" />
<rect x="381.96" y="329.00" width="12.39" height="3.00" fill="#9c1a2e" />
<rect x="381.96" y="332.00" width="12.39" height="5.00" fill="#7c0f25" />
<rect x="381.96" y="337.00" width="12.39" height="2.00" fill="#9c1a2e" />
<rect x="381.96" y="339.00" width="12.39" height="5.50" fill="#b93c3f" />
<rect x="381.96" y="344.50" width="12.39" height="9.00" fill="#9c1a2e" />
<rect x="381.96" y="353.50" width="12.39" height="2.50" fill="#d9826c" />
<rect x="381.96" y="356.00" width="12.39" height="2.00" fill="#e6e4e2" />
<rect x="381.96" y="365.70" width="12.39" height="2.30" fill="#f1d8c9" />
<rect x="381.96" y="385.00" width="12.39" height="3.30" fill="#aacbdd" />
<rect x="394.35" y="94.80" width="12.39" height="3.50" fill="#aacbdd" />
<rect x="394.35" y="133.00" width="12.39" height="2.20" fill="#f1d8c9" />
<rect x="394.35" y="174.50" width="12.39" height="4.00" fill="#aacbdd" />
<rect x="394.35" y="188.00" width="12.39" height="2.00" fill="#d9826c" />
<rect x="394.35" y="221.00" width="12.39" height="2.40" fill="#f1d8c9" />
<rect x="394.35" y="228.00" width="12.39" height="2.00" fill="#f1d8c9" />
<rect x="394.35" y="232.40" width="12.39" height="4.40" fill="#eeb49a" />
<rect x="394.35" y="236.80" width="12.39" height="2.20" fill="#aacbdd" />
<rect x="394.35" y="265.60" width="12.39" height="2.40" fill="#f1d8c9" />
<rect x="394.35" y="301.20" width="12.39" height="3.30" fill="#b93c3f" />
<rect x="394.35" y="304.50" width="12.39" height="7.90" fill="#9c1a2e" />
<rect x="394.35" y="312.40" width="12.39" height="2.20" fill="#d9826c" />
<rect x="394.35" y="314.60" width="12.39" height="4.40" fill="#b93c3f" />
<rect x="394.35" y="319.00" width="12.39" height="3.40" fill="#f1d8c9" />
<rect x="394.35" y="322.40" width="12.39" height="3.30" fill="#d9826c" />
<rect x="394.35" y="325.70" width="12.39" height="3.30" fill="#9c1a2e" />
<rect x="394.35" y="329.00" width="12.39" height="6.70" fill="#d9826c" />
<rect x="394.35" y="335.70" width="12.39" height="5.50" fill="#b93c3f" />
<rect x="394.35" y="341.20" width="12.39" height="4.40" fill="#d9826c" />
<rect x="394.35" y="345.60" width="12.39" height="4.60" fill="#e6e4e2" />
<rect x="394.35" y="350.20" width="12.39" height="4.40" fill="#eeb49a" />
<rect x="394.35" y="354.60" width="12.39" height="5.60" fill="#d9826c" />
<rect x="394.35" y="365.70" width="12.39" height="2.30" fill="#e6e4e2" />
<rect x="394.35" y="385.00" width="12.39" height="3.30" fill="#aacbdd" />
<rect x="394.35" y="400.50" width="12.39" height="2.20" fill="#e6e4e2" />
<rect x="406.74" y="72.20" width="12.39" height="1.80" fill="#f1d8c9" />
<rect x="406.74" y="94.80" width="12.39" height="3.50" fill="#aacbdd" />
<rect x="406.74" y="133.00" width="12.39" height="2.20" fill="#aacbdd" />
<rect x="406.74" y="174.50" width="12.39" height="4.00" fill="#aacbdd" />
<rect x="406.74" y="188.00" width="12.39" height="2.00" fill="#e6e4e2" />
<rect x="406.74" y="197.00" width="12.39" height="2.00" fill="#f1d8c9" />
<rect x="406.74" y="232.40" width="12.39" height="4.40" fill="#f1d8c9" />
<rect x="406.74" y="236.80" width="12.39" height="2.20" fill="#aacbdd" />
<rect x="406.74" y="265.60" width="12.39" height="2.40" fill="#aacbdd" />
<rect x="406.74" y="268.00" width="12.39" height="3.30" fill="#f1d8c9" />
<rect x="406.74" y="299.00" width="12.39" height="1.70" fill="#d9826c" />
<rect x="406.74" y="317.00" width="12.39" height="3.00" fill="#e6e4e2" />
<rect x="406.74" y="328.00" width="12.39" height="2.00" fill="#eeb49a" />
<rect x="406.74" y="343.40" width="12.39" height="4.60" fill="#f1d8c9" />
<rect x="406.74" y="348.00" width="12.39" height="3.30" fill="#b93c3f" />
<rect x="406.74" y="351.30" width="12.39" height="4.40" fill="#e6e4e2" />
<rect x="406.74" y="355.70" width="12.39" height="4.50" fill="#d9826c" />
<rect x="406.74" y="360.20" width="12.39" height="4.40" fill="#eeb49a" />
<rect x="406.74" y="364.60" width="12.39" height="3.40" fill="#f1d8c9" />
<rect x="406.74" y="368.00" width="12.39" height="3.20" fill="#d9826c" />
<rect x="406.74" y="371.20" width="12.39" height="4.50" fill="#eeb49a" />
<rect x="406.74" y="375.70" width="12.39" height="3.30" fill="#d9826c" />
<rect x="406.74" y="379.00" width="12.39" height="4.40" fill="#eeb49a" />
<rect x="406.74" y="383.40" width="12.39" height="3.60" fill="#d9826c" />
<rect x="406.74" y="387.00" width="12.39" height="2.40" fill="#e6e4e2" />
<rect x="406.74" y="389.40" width="12.39" height="12.20" fill="#7c0f25" />
<rect x="406.74" y="401.60" width="12.39" height="4.40" fill="#d9826c" />
<rect x="406.74" y="406.00" width="12.39" height="5.20" fill="#b93c3f" />
<rect x="419.12" y="94.80" width="12.39" height="3.50" fill="#aacbdd" />
<rect x="419.12" y="133.00" width="12.39" height="2.20" fill="#aacbdd" />
<rect x="419.12" y="174.50" width="12.39" height="4.00" fill="#e6e4e2" />
<rect x="419.12" y="186.70" width="12.39" height="2.30" fill="#d9826c" />
<rect x="419.12" y="197.00" width="12.39" height="2.00" fill="#e6e4e2" />
<rect x="419.12" y="232.40" width="12.39" height="4.40" fill="#c85c4d" />
<rect x="419.12" y="268.00" width="12.39" height="3.30" fill="#f1d8c9" />
<rect x="419.12" y="318.00" width="12.39" height="2.00" fill="#d9826c" />
<rect x="419.12" y="343.40" width="12.39" height="2.20" fill="#eeb49a" />
<rect x="419.12" y="348.00" width="12.39" height="2.20" fill="#b93c3f" />
<rect x="419.12" y="350.20" width="12.39" height="4.40" fill="#d9826c" />
<rect x="419.12" y="354.60" width="12.39" height="2.40" fill="#e6e4e2" />
<rect x="419.12" y="357.00" width="12.39" height="7.60" fill="#d9826c" />
<rect x="419.12" y="364.60" width="12.39" height="5.40" fill="#f1d8c9" />
<rect x="419.12" y="370.00" width="12.39" height="3.40" fill="#b93c3f" />
<rect x="419.12" y="373.40" width="12.39" height="2.30" fill="#e6e4e2" />
<rect x="419.12" y="375.70" width="12.39" height="4.30" fill="#7c0f25" />
<rect x="419.12" y="380.00" width="12.39" height="3.40" fill="#eeb49a" />
<rect x="419.12" y="383.40" width="12.39" height="4.90" fill="#b93c3f" />
<rect x="419.12" y="388.30" width="12.39" height="2.20" fill="#e6e4e2" />
<rect x="419.12" y="390.50" width="12.39" height="5.50" fill="#d9826c" />
<rect x="419.12" y="396.00" width="12.39" height="2.00" fill="#eeb49a" />
<rect x="419.12" y="398.00" width="12.39" height="3.00" fill="#d9826c" />
<rect x="419.12" y="401.00" width="12.39" height="5.00" fill="#eeb49a" />
<rect x="419.12" y="406.00" width="12.39" height="5.20" fill="#b93c3f" />
<rect x="431.51" y="94.80" width="12.39" height="3.50" fill="#aacbdd" />
<rect x="431.51" y="174.50" width="12.39" height="2.50" fill="#aacbdd" />
<rect x="431.51" y="188.00" width="12.39" height="1.00" fill="#eeb49a" />
<rect x="431.51" y="197.00" width="12.39" height="2.00" fill="#e6e4e2" />
<rect x="431.51" y="232.40" width="12.39" height="2.20" fill="#e6e4e2" />
<rect x="431.51" y="236.80" width="12.39" height="2.20" fill="#aacbdd" />
<rect x="431.51" y="265.60" width="12.39" height="2.40" fill="#e6e4e2" />
<rect x="431.51" y="290.00" width="12.39" height="2.30" fill="#b93c3f" />
<rect x="431.51" y="318.00" width="12.39" height="2.00" fill="#e6e4e2" />
<rect x="431.51" y="341.00" width="12.39" height="3.50" fill="#eeb49a" />
<rect x="431.51" y="348.00" width="12.39" height="4.40" fill="#d9826c" />
<rect x="431.51" y="352.40" width="12.39" height="2.20" fill="#e6e4e2" />
<rect x="431.51" y="354.60" width="12.39" height="2.20" fill="#b93c3f" />
<rect x="431.51" y="356.80" width="12.39" height="4.50" fill="#eeb49a" />
<rect x="431.51" y="361.30" width="12.39" height="4.40" fill="#d9826c" />
<rect x="431.51" y="365.70" width="12.39" height="8.80" fill="#eeb49a" />
<rect x="431.51" y="374.50" width="12.39" height="4.50" fill="#d9826c" />
<rect x="431.51" y="379.00" width="12.39" height="3.40" fill="#eeb49a" />
<rect x="431.51" y="382.40" width="12.39" height="2.10" fill="#e6e4e2" />
<rect x="431.51" y="384.50" width="12.39" height="4.90" fill="#d9826c" />
<rect x="431.51" y="389.40" width="12.39" height="2.30" fill="#e6e4e2" />
<rect x="431.51" y="391.70" width="12.39" height="6.60" fill="#d9826c" />
<rect x="431.51" y="398.30" width="12.39" height="4.40" fill="#eeb49a" />
<rect x="431.51" y="402.70" width="12.39" height="4.30" fill="#d9826c" />
<rect x="431.51" y="407.00" width="12.39" height="4.20" fill="#eeb49a" />
<rect x="233.30" y="48.90" width="49.70" height="8.30" fill="#e5928a" />
<rect x="283.00" y="48.90" width="98.00" height="8.30" fill="#a9c83e" />
<rect x="381.00" y="48.90" width="62.90" height="8.30" fill="#e5928a" />
<rect x="233.30" y="59.60" width="99.10" height="8.40" fill="#4e9568" />
<rect x="332.40" y="59.60" width="111.50" height="8.40" fill="#d697cd" />
<text x="258.20" y="56.30" font-size="7.8" stroke="#111" stroke-width="0.15" text-anchor="middle" fill="#111" textLength="25.9" lengthAdjust="spacingAndGlyphs">Week 6</text>
<text x="332.60" y="56.30" font-size="7.8" stroke="#111" stroke-width="0.15" text-anchor="middle" fill="#111" textLength="30.6" lengthAdjust="spacingAndGlyphs">Week 10</text>
<text x="412.40" y="56.30" font-size="7.8" stroke="#111" stroke-width="0.15" text-anchor="middle" fill="#111" textLength="25.9" lengthAdjust="spacingAndGlyphs">Week 6</text>
<text x="281.90" y="66.60" font-size="7.8" stroke="#111" stroke-width="0.15" text-anchor="middle" fill="#111" textLength="24.7" lengthAdjust="spacingAndGlyphs">Control</text>
<text x="388.20" y="66.60" font-size="7.8" stroke="#111" stroke-width="0.15" text-anchor="middle" fill="#111" textLength="60.5" lengthAdjust="spacingAndGlyphs">Ampicillin-Treated</text>
<text x="445.40" y="57.00" font-size="7.6" stroke="#1a1a1a" stroke-width="0.15" fill="#1a1a1a" textLength="32.3" lengthAdjust="spacingAndGlyphs">Timepoint</text>
<text x="445.40" y="67.10" font-size="7.6" stroke="#1a1a1a" stroke-width="0.15" fill="#1a1a1a" textLength="32.3" lengthAdjust="spacingAndGlyphs">Treatment</text>
<path d="M239.49,48.60V46.50H251.88V48.60 M264.27,48.60V45.20H276.66V48.60 M245.69,46.50V43.20H270.46V45.20 M289.05,48.60V46.60H301.44V48.60 M313.82,48.60V43.60H326.21V48.60 M295.24,46.60V41.70H320.02V43.60 M258.08,43.20V35.00H307.63V41.70 M363.38,48.60V46.00H375.76V48.60 M350.99,48.60V44.70H369.57V46.00 M338.60,48.60V43.00H360.28V44.70 M388.15,48.60V47.00H400.54V48.60 M425.32,48.60V47.00H437.71V48.60 M412.93,48.60V46.20H431.51V47.00 M394.35,47.00V34.20H422.22V46.20 M349.44,43.00V28.90H408.28V34.20 M282.85,35.00V19.50H378.86V28.90" fill="none" stroke="#222" stroke-width="1"/>
<text x="0" y="0" font-size="7.8" transform="translate(449.0,77.4) rotate(90)" fill="#111" textLength="19.6" lengthAdjust="spacingAndGlyphs">OTUs</text>
<line x1="450.70" y1="104.60" x2="450.70" y2="406.50" stroke="#333" stroke-width="1.0" />
<polygon points="448.3,405.0 453.1,405.0 450.7,410.9" fill="#111"/>
<defs><linearGradient id="cb" x1="0" x2="1" y1="0" y2="0"><stop offset="0" stop-color="#5e0a22"/><stop offset="0.13" stop-color="#9e0f2c"/><stop offset="0.25" stop-color="#c8584c"/><stop offset="0.37" stop-color="#e9a585"/><stop offset="0.46" stop-color="#f2d8c6"/><stop offset="0.52" stop-color="#e8e6e4"/><stop offset="0.60" stop-color="#c3dae6"/><stop offset="0.70" stop-color="#8fbbd7"/><stop offset="0.80" stop-color="#5286bb"/><stop offset="0.90" stop-color="#2d5698"/><stop offset="1" stop-color="#1b2d5e"/></linearGradient></defs>
<rect x="266.00" y="428.20" width="177.50" height="7.10" fill="url(#cb)" />
<text x="272.40" y="424.40" font-size="6.6" stroke="#111" stroke-width="0.15" text-anchor="middle" fill="#111">3</text>
<text x="299.00" y="424.40" font-size="6.6" stroke="#111" stroke-width="0.15" text-anchor="middle" fill="#111">2</text>
<text x="326.00" y="424.40" font-size="6.6" stroke="#111" stroke-width="0.15" text-anchor="middle" fill="#111">1</text>
<text x="352.80" y="424.40" font-size="6.6" stroke="#111" stroke-width="0.15" text-anchor="middle" fill="#111">0</text>
<text x="379.40" y="424.40" font-size="6.6" stroke="#111" stroke-width="0.15" text-anchor="middle" fill="#111">−1</text>
<text x="406.00" y="424.40" font-size="6.6" stroke="#111" stroke-width="0.15" text-anchor="middle" fill="#111">−2</text>
<text x="432.90" y="424.40" font-size="6.6" stroke="#111" stroke-width="0.15" text-anchor="middle" fill="#111">−3</text>
<text x="239.20" y="434.60" font-size="8.6" stroke="#111" stroke-width="0.15" fill="#111" textLength="22.0" lengthAdjust="spacingAndGlyphs">Z-score</text>
<text x="7.10" y="181.80" font-size="11.5" fill="#000" font-weight="bold">C</text>
<text x="15.40" y="200.80" font-size="7.4" stroke="#1a1a1a" stroke-width="0.15" fill="#1a1a1a" textLength="56.9" lengthAdjust="spacingAndGlyphs">Axis 2 (11.88 %)</text>
<line x1="43.60" y1="206.30" x2="43.60" y2="283.20" stroke="#222" stroke-width="1.1" />
<line x1="43.60" y1="283.00" x2="156.50" y2="260.90" stroke="#222" stroke-width="1.1" />
<line x1="43.60" y1="283.00" x2="66.20" y2="299.80" stroke="#222" stroke-width="1.1" />
<text x="134.60" y="257.20" font-size="7.4" stroke="#1a1a1a" stroke-width="0.15" fill="#1a1a1a" textLength="56.6" lengthAdjust="spacingAndGlyphs">Axis 1 (68.83 %)</text>
<text x="42.00" y="308.80" font-size="7.4" stroke="#1a1a1a" stroke-width="0.15" fill="#1a1a1a" textLength="57.2" lengthAdjust="spacingAndGlyphs">Axis 3 (5.982 %)</text>
<circle cx="155.40" cy="186.80" r="2.7" fill="#6aaee3"/>
<circle cx="155.70" cy="203.10" r="2.7" fill="#6aaee3"/>
<circle cx="148.60" cy="207.60" r="2.7" fill="#6aaee3"/>
<circle cx="127.10" cy="211.00" r="2.7" fill="#6aaee3"/>
<circle cx="145.50" cy="224.00" r="2.7" fill="#24437f"/>
<circle cx="151.70" cy="226.80" r="2.7" fill="#24437f"/>
<circle cx="137.20" cy="238.40" r="2.7" fill="#24437f"/>
<circle cx="118.50" cy="251.40" r="2.7" fill="#24437f"/>
<circle cx="64.60" cy="223.60" r="2.7" fill="#5c3a12"/>
<circle cx="69.20" cy="224.40" r="2.7" fill="#5c3a12"/>
<circle cx="69.30" cy="230.60" r="2.7" fill="#5c3a12"/>
<circle cx="66.50" cy="222.80" r="2.7" fill="#5c3a12"/>
<circle cx="61.50" cy="232.30" r="2.7" fill="#b0102e"/>
<circle cx="58.50" cy="238.60" r="2.7" fill="#b0102e"/>
<circle cx="55.50" cy="240.00" r="2.7" fill="#b0102e"/>
<circle cx="71.70" cy="233.60" r="2.7" fill="#b0102e"/>
<circle cx="73.90" cy="234.00" r="2.7" fill="#b0102e"/>
<rect x="106.20" y="284.70" width="13.40" height="7.90" fill="#a80a30" />
<rect x="162.80" y="284.70" width="13.40" height="7.90" fill="#24437f" />
<rect x="106.20" y="304.50" width="13.40" height="8.10" fill="#5c3a12" />
<rect x="162.80" y="304.50" width="13.40" height="8.10" fill="#6aaee3" />
<text x="123.10" y="287.20" font-size="7.4" stroke="#1a1a1a" stroke-width="0.15" fill="#1a1a1a" textLength="26.5" lengthAdjust="spacingAndGlyphs">Week 6-</text>
<text x="123.10" y="295.40" font-size="7.4" stroke="#1a1a1a" stroke-width="0.15" fill="#1a1a1a" textLength="29.5" lengthAdjust="spacingAndGlyphs">Ampicillin</text>
<text x="179.60" y="287.20" font-size="7.4" stroke="#1a1a1a" stroke-width="0.15" fill="#1a1a1a" textLength="26.1" lengthAdjust="spacingAndGlyphs">Week 6-</text>
<text x="179.60" y="295.40" font-size="7.4" stroke="#1a1a1a" stroke-width="0.15" fill="#1a1a1a" textLength="23.1" lengthAdjust="spacingAndGlyphs">Control</text>
<text x="123.10" y="307.40" font-size="7.4" stroke="#1a1a1a" stroke-width="0.15" fill="#1a1a1a" textLength="30.5" lengthAdjust="spacingAndGlyphs">Week 10-</text>
<text x="123.10" y="315.50" font-size="7.4" stroke="#1a1a1a" stroke-width="0.15" fill="#1a1a1a" textLength="29.5" lengthAdjust="spacingAndGlyphs">Ampicillin</text>
<text x="179.60" y="307.40" font-size="7.4" stroke="#1a1a1a" stroke-width="0.15" fill="#1a1a1a" textLength="30.5" lengthAdjust="spacingAndGlyphs">Week 10-</text>
<text x="179.60" y="315.50" font-size="7.4" stroke="#1a1a1a" stroke-width="0.15" fill="#1a1a1a" textLength="23.1" lengthAdjust="spacingAndGlyphs">Control</text>
<text x="7.50" y="339.10" font-size="11.5" fill="#000" font-weight="bold">D</text>
<line x1="55.00" y1="343.30" x2="55.00" y2="446.50" stroke="#111" stroke-width="1.1" />
<line x1="54.50" y1="446.00" x2="183.30" y2="446.00" stroke="#111" stroke-width="1.1" />
<line x1="52.80" y1="346.30" x2="55.00" y2="346.30" stroke="#111" stroke-width="1" />
<text x="50.00" y="349.00" font-size="7.4" stroke="#1a1a1a" stroke-width="0.15" text-anchor="end" fill="#1a1a1a">15</text>
<line x1="52.80" y1="379.70" x2="55.00" y2="379.70" stroke="#111" stroke-width="1" />
<text x="50.00" y="382.40" font-size="7.4" stroke="#1a1a1a" stroke-width="0.15" text-anchor="end" fill="#1a1a1a">10</text>
<line x1="52.80" y1="413.10" x2="55.00" y2="413.10" stroke="#111" stroke-width="1" />
<text x="50.00" y="415.80" font-size="7.4" stroke="#1a1a1a" stroke-width="0.15" text-anchor="end" fill="#1a1a1a">5</text>
<line x1="52.80" y1="446.40" x2="55.00" y2="446.40" stroke="#111" stroke-width="1" />
<text x="50.00" y="449.10" font-size="7.4" stroke="#1a1a1a" stroke-width="0.15" text-anchor="end" fill="#1a1a1a">0</text>
<line x1="85.50" y1="446.00" x2="85.50" y2="449.30" stroke="#111" stroke-width="1" />
<line x1="153.40" y1="446.00" x2="153.40" y2="449.30" stroke="#111" stroke-width="1" />
<text x="85.70" y="459.30" font-size="7.6" stroke="#1a1a1a" stroke-width="0.15" text-anchor="middle" fill="#1a1a1a" textLength="26.1" lengthAdjust="spacingAndGlyphs">Week 6</text>
<text x="153.80" y="459.30" font-size="7.6" stroke="#1a1a1a" stroke-width="0.15" text-anchor="middle" fill="#1a1a1a" textLength="30.7" lengthAdjust="spacingAndGlyphs">Week 10</text>
<text x="0" y="0" font-size="8.3" text-anchor="middle" textLength="29" lengthAdjust="spacingAndGlyphs" transform="translate(35.2,394.9) rotate(-90)">Faith's PD</text>
<line x1="73.50" y1="359.90" x2="99.90" y2="359.90" stroke="#666" stroke-width="1.3" />
<line x1="141.00" y1="364.40" x2="166.50" y2="364.40" stroke="#444" stroke-width="1.3" />
<rect x="81.35" y="354.90" width="1.70" height="2.00" fill="#1a1a1a" />
<rect x="84.15" y="354.90" width="1.70" height="2.00" fill="#1a1a1a" />
<rect x="86.95" y="354.90" width="1.70" height="2.00" fill="#1a1a1a" />
<rect x="89.75" y="354.90" width="1.70" height="2.00" fill="#1a1a1a" />
<rect x="148.35" y="359.20" width="1.70" height="2.00" fill="#1a1a1a" />
<rect x="151.20" y="359.20" width="1.70" height="2.00" fill="#1a1a1a" />
<rect x="154.05" y="359.20" width="1.70" height="2.00" fill="#1a1a1a" />
<rect x="156.95" y="359.20" width="1.70" height="2.00" fill="#1a1a1a" />
<line x1="68.10" y1="368.40" x2="77.90" y2="368.40" stroke="#2c4d8e" stroke-width="0.9" />
<line x1="73.00" y1="368.40" x2="73.00" y2="369.80" stroke="#2c4d8e" stroke-width="0.9" />
<rect x="65.60" y="369.80" width="14.80" height="2.40" fill="#95a6cf" stroke="#2c4d8e" stroke-width="0.6"/>
<line x1="65.60" y1="371.10" x2="80.40" y2="371.10" stroke="#2c4d8e" stroke-width="1.3" />
<line x1="73.00" y1="372.20" x2="73.00" y2="373.70" stroke="#2c4d8e" stroke-width="0.9" />
<line x1="68.10" y1="373.70" x2="77.90" y2="373.70" stroke="#2c4d8e" stroke-width="0.9" />
<line x1="93.60" y1="416.40" x2="103.60" y2="416.40" stroke="#b3103a" stroke-width="0.9" />
<line x1="98.60" y1="416.40" x2="98.60" y2="417.60" stroke="#b3103a" stroke-width="0.9" />
<rect x="91.30" y="417.60" width="14.60" height="1.40" fill="#d88a86" stroke="#b3103a" stroke-width="0.6"/>
<line x1="91.30" y1="418.30" x2="105.90" y2="418.30" stroke="#b3103a" stroke-width="1.3" />
<line x1="98.60" y1="419.00" x2="98.60" y2="419.40" stroke="#b3103a" stroke-width="0.9" />
<line x1="93.60" y1="419.40" x2="103.60" y2="419.40" stroke="#b3103a" stroke-width="0.9" />
<line x1="136.30" y1="375.50" x2="145.90" y2="375.50" stroke="#2c4d8e" stroke-width="0.9" />
<line x1="141.10" y1="375.50" x2="141.10" y2="378.00" stroke="#2c4d8e" stroke-width="0.9" />
<rect x="133.50" y="378.00" width="15.20" height="3.90" fill="#9aa8cf" stroke="#2c4d8e" stroke-width="0.6"/>
<line x1="133.50" y1="381.20" x2="148.70" y2="381.20" stroke="#2c4d8e" stroke-width="1.3" />
<line x1="141.10" y1="381.90" x2="141.10" y2="383.30" stroke="#2c4d8e" stroke-width="0.9" />
<line x1="136.30" y1="383.30" x2="145.90" y2="383.30" stroke="#2c4d8e" stroke-width="0.9" />
<line x1="161.80" y1="386.20" x2="171.60" y2="386.20" stroke="#b3103a" stroke-width="0.9" />
<line x1="166.70" y1="386.20" x2="166.70" y2="389.20" stroke="#b3103a" stroke-width="0.9" />
<rect x="159.20" y="389.20" width="15.00" height="6.80" fill="#d98c82" stroke="#b3103a" stroke-width="0.6"/>
<line x1="159.20" y1="395.20" x2="174.20" y2="395.20" stroke="#b3103a" stroke-width="1.3" />
<line x1="166.70" y1="396.00" x2="166.70" y2="397.80" stroke="#b3103a" stroke-width="0.9" />
<line x1="161.80" y1="397.80" x2="171.60" y2="397.80" stroke="#b3103a" stroke-width="0.9" />
<rect x="72.00" y="464.60" width="13.00" height="7.70" fill="#2c4d8e" />
<rect x="121.20" y="464.60" width="13.10" height="7.70" fill="#b0102e" />
<text x="88.40" y="470.90" font-size="7.4" stroke="#1a1a1a" stroke-width="0.15" fill="#1a1a1a" textLength="23.6" lengthAdjust="spacingAndGlyphs">Control</text>
<text x="137.30" y="470.90" font-size="7.4" stroke="#1a1a1a" stroke-width="0.15" fill="#1a1a1a" textLength="30.0" lengthAdjust="spacingAndGlyphs">Ampicillin</text>
<text x="7.50" y="494.50" font-size="11.5" fill="#000" font-weight="bold">E</text>
<rect x="72.70" y="517.90" width="7.50" height="91.90" fill="#a3002a" />
<rect x="72.70" y="609.80" width="7.50" height="22.50" fill="#a86c2a" />
<rect x="81.70" y="517.90" width="7.50" height="94.40" fill="#a3002a" />
<rect x="81.70" y="612.30" width="7.50" height="20.00" fill="#a86c2a" />
<rect x="90.70" y="517.90" width="7.50" height="114.40" fill="#a3002a" />
<rect x="99.70" y="517.90" width="7.50" height="114.40" fill="#a3002a" />
<rect x="108.70" y="517.90" width="7.50" height="114.40" fill="#a3002a" />
<rect x="121.30" y="517.90" width="7.50" height="109.00" fill="#a3002a" />
<rect x="121.30" y="626.90" width="7.50" height="2.00" fill="#6aaa3a" />
<rect x="121.30" y="628.90" width="7.50" height="2.80" fill="#6aaee2" />
<rect x="121.30" y="631.70" width="7.50" height="0.60" fill="#cc0a7a" />
<rect x="130.30" y="517.90" width="7.50" height="112.20" fill="#a3002a" />
<rect x="130.30" y="630.10" width="7.50" height="1.60" fill="#6aaee2" />
<rect x="130.30" y="631.70" width="7.50" height="0.60" fill="#cc0a7a" />
<rect x="139.30" y="517.90" width="7.50" height="111.00" fill="#a3002a" />
<rect x="139.30" y="628.90" width="7.50" height="1.60" fill="#6aaa3a" />
<rect x="139.30" y="630.50" width="7.50" height="1.20" fill="#6aaee2" />
<rect x="139.30" y="631.70" width="7.50" height="0.60" fill="#cc0a7a" />
<rect x="148.30" y="517.90" width="7.50" height="98.60" fill="#a3002a" />
<rect x="148.30" y="616.50" width="7.50" height="13.20" fill="#a86c2a" />
<rect x="148.30" y="629.70" width="7.50" height="2.00" fill="#6aaa3a" />
<rect x="148.30" y="631.70" width="7.50" height="0.60" fill="#cc0a7a" />
<rect x="162.30" y="517.90" width="7.50" height="74.70" fill="#a3002a" />
<rect x="162.30" y="592.60" width="7.50" height="31.40" fill="#a86c2a" />
<rect x="162.30" y="624.00" width="7.50" height="2.70" fill="#6aaa3a" />
<rect x="162.30" y="626.70" width="7.50" height="4.60" fill="#2e6650" />
<rect x="162.30" y="631.30" width="7.50" height="1.00" fill="#cc0a7a" />
<rect x="171.30" y="517.90" width="7.50" height="63.70" fill="#a3002a" />
<rect x="171.30" y="581.60" width="7.50" height="43.40" fill="#a86c2a" />
<rect x="171.30" y="625.00" width="7.50" height="2.30" fill="#6aaa3a" />
<rect x="171.30" y="627.30" width="7.50" height="4.20" fill="#2e6650" />
<rect x="171.30" y="631.50" width="7.50" height="0.80" fill="#cc0a7a" />
<rect x="180.30" y="517.90" width="7.50" height="50.40" fill="#a3002a" />
<rect x="180.30" y="568.30" width="7.50" height="56.70" fill="#a86c2a" />
<rect x="180.30" y="625.00" width="7.50" height="2.70" fill="#6aaa3a" />
<rect x="180.30" y="627.70" width="7.50" height="3.80" fill="#2e6650" />
<rect x="180.30" y="631.50" width="7.50" height="0.80" fill="#cc0a7a" />
<rect x="189.30" y="517.90" width="7.50" height="55.00" fill="#a3002a" />
<rect x="189.30" y="572.90" width="7.50" height="53.80" fill="#a86c2a" />
<rect x="189.30" y="626.70" width="7.50" height="2.90" fill="#6aaa3a" />
<rect x="189.30" y="629.60" width="7.50" height="2.70" fill="#2e6650" />
<rect x="202.90" y="517.90" width="7.50" height="29.90" fill="#a3002a" />
<rect x="202.90" y="547.80" width="7.50" height="72.20" fill="#a86c2a" />
<rect x="202.90" y="620.00" width="7.50" height="1.50" fill="#6aaa3a" />
<rect x="202.90" y="621.50" width="7.50" height="10.80" fill="#6aaee2" />
<rect x="211.90" y="517.90" width="7.50" height="40.10" fill="#a3002a" />
<rect x="211.90" y="558.00" width="7.50" height="65.50" fill="#a86c2a" />
<rect x="211.90" y="623.50" width="7.50" height="2.50" fill="#6aaa3a" />
<rect x="211.90" y="626.00" width="7.50" height="4.20" fill="#2e6650" />
<rect x="211.90" y="630.20" width="7.50" height="1.30" fill="#4a1f6a" />
<rect x="211.90" y="631.50" width="7.50" height="0.80" fill="#cc0a7a" />
<rect x="220.90" y="517.90" width="7.50" height="50.10" fill="#a3002a" />
<rect x="220.90" y="568.00" width="7.50" height="61.60" fill="#a86c2a" />
<rect x="220.90" y="629.60" width="7.50" height="2.70" fill="#6aaa3a" />
<rect x="229.90" y="517.90" width="7.50" height="55.00" fill="#a3002a" />
<rect x="229.90" y="572.90" width="7.50" height="55.40" fill="#a86c2a" />
<rect x="229.90" y="628.30" width="7.50" height="4.00" fill="#2e6650" />
<rect x="272.30" y="517.00" width="7.50" height="92.00" fill="#a3002a" />
<rect x="272.30" y="609.00" width="7.50" height="22.60" fill="#a86c2a" />
<rect x="272.30" y="631.60" width="7.50" height="0.90" fill="#6aaa3a" />
<rect x="281.25" y="517.00" width="7.50" height="94.90" fill="#a3002a" />
<rect x="281.25" y="611.90" width="7.50" height="19.70" fill="#a86c2a" />
<rect x="281.25" y="631.60" width="7.50" height="0.90" fill="#6aaa3a" />
<rect x="290.20" y="517.00" width="7.50" height="115.50" fill="#a3002a" />
<rect x="299.15" y="517.00" width="7.50" height="115.50" fill="#a3002a" />
<rect x="308.10" y="517.00" width="7.50" height="115.50" fill="#a3002a" />
<rect x="321.00" y="517.00" width="7.50" height="107.60" fill="#a3002a" />
<rect x="321.00" y="624.60" width="7.50" height="1.90" fill="#6aaa3a" />
<rect x="321.00" y="626.50" width="7.50" height="3.10" fill="#2e6650" />
<rect x="321.00" y="629.60" width="7.50" height="2.90" fill="#6aaee2" />
<rect x="330.00" y="517.00" width="7.50" height="110.30" fill="#a3002a" />
<rect x="330.00" y="627.30" width="7.50" height="2.10" fill="#6aaa3a" />
<rect x="330.00" y="629.40" width="7.50" height="1.60" fill="#2e6650" />
<rect x="330.00" y="631.00" width="7.50" height="1.50" fill="#cc0a7a" />
<rect x="339.00" y="517.00" width="7.50" height="109.70" fill="#a3002a" />
<rect x="339.00" y="626.70" width="7.50" height="2.10" fill="#6aaa3a" />
<rect x="339.00" y="628.80" width="7.50" height="1.20" fill="#2e6650" />
<rect x="339.00" y="630.00" width="7.50" height="2.50" fill="#6aaee2" />
<rect x="348.00" y="517.00" width="7.50" height="100.00" fill="#a3002a" />
<rect x="348.00" y="617.00" width="7.50" height="12.60" fill="#a86c2a" />
<rect x="348.00" y="629.60" width="7.50" height="2.90" fill="#6aaee2" />
<rect x="361.50" y="517.00" width="7.50" height="75.60" fill="#a3002a" />
<rect x="361.50" y="592.60" width="7.50" height="31.40" fill="#a86c2a" />
<rect x="361.50" y="624.00" width="7.50" height="4.00" fill="#b5c48e" />
<rect x="361.50" y="628.00" width="7.50" height="2.00" fill="#1f3f7a" />
<rect x="361.50" y="630.00" width="7.50" height="1.50" fill="#6aaee2" />
<rect x="361.50" y="631.50" width="7.50" height="1.00" fill="#cc0a7a" />
<rect x="370.65" y="517.00" width="7.50" height="63.70" fill="#a3002a" />
<rect x="370.65" y="580.70" width="7.50" height="43.30" fill="#a86c2a" />
<rect x="370.65" y="624.00" width="7.50" height="4.00" fill="#b5c48e" />
<rect x="370.65" y="628.00" width="7.50" height="1.20" fill="#2e6650" />
<rect x="370.65" y="629.20" width="7.50" height="2.30" fill="#6aaee2" />
<rect x="370.65" y="631.50" width="7.50" height="1.00" fill="#cc0a7a" />
<rect x="379.80" y="517.00" width="7.50" height="50.70" fill="#a3002a" />
<rect x="379.80" y="567.70" width="7.50" height="56.90" fill="#a86c2a" />
<rect x="379.80" y="624.60" width="7.50" height="4.10" fill="#b5c48e" />
<rect x="379.80" y="628.70" width="7.50" height="1.10" fill="#1f3f7a" />
<rect x="379.80" y="629.80" width="7.50" height="2.00" fill="#6aaee2" />
<rect x="379.80" y="631.80" width="7.50" height="0.70" fill="#cc0a7a" />
<rect x="388.95" y="517.00" width="7.50" height="54.50" fill="#a3002a" />
<rect x="388.95" y="571.50" width="7.50" height="54.30" fill="#a86c2a" />
<rect x="388.95" y="625.80" width="7.50" height="1.70" fill="#b5c48e" />
<rect x="388.95" y="627.50" width="7.50" height="1.40" fill="#1f3f7a" />
<rect x="388.95" y="628.90" width="7.50" height="2.10" fill="#6aaee2" />
<rect x="388.95" y="631.00" width="7.50" height="1.50" fill="#cc0a7a" />
<rect x="402.30" y="517.00" width="7.50" height="28.60" fill="#a3002a" />
<rect x="402.30" y="545.60" width="7.50" height="73.20" fill="#a86c2a" />
<rect x="402.30" y="618.80" width="7.50" height="1.80" fill="#6aaa3a" />
<rect x="402.30" y="620.60" width="7.50" height="10.00" fill="#2e6650" />
<rect x="402.30" y="630.60" width="7.50" height="1.90" fill="#6aaee2" />
<rect x="411.25" y="517.00" width="7.50" height="38.60" fill="#a3002a" />
<rect x="411.25" y="555.60" width="7.50" height="66.40" fill="#a86c2a" />
<rect x="411.25" y="622.00" width="7.50" height="4.00" fill="#b5c48e" />
<rect x="411.25" y="626.00" width="7.50" height="1.00" fill="#6aaa3a" />
<rect x="411.25" y="627.00" width="7.50" height="2.20" fill="#1f3f7a" />
<rect x="411.25" y="629.20" width="7.50" height="2.10" fill="#cc0a7a" />
<rect x="411.25" y="631.30" width="7.50" height="1.20" fill="#6aaee2" />
<rect x="420.20" y="517.00" width="7.50" height="39.30" fill="#a3002a" />
<rect x="420.20" y="556.30" width="7.50" height="62.20" fill="#a86c2a" />
<rect x="420.20" y="618.50" width="7.50" height="4.70" fill="#6aaa3a" />
<rect x="420.20" y="623.20" width="7.50" height="2.20" fill="#6aaee2" />
<rect x="420.20" y="625.40" width="7.50" height="7.10" fill="#4a1a5e" />
<rect x="429.15" y="517.00" width="7.50" height="54.50" fill="#a3002a" />
<rect x="429.15" y="571.50" width="7.50" height="56.00" fill="#a86c2a" />
<rect x="429.15" y="627.50" width="7.50" height="2.50" fill="#b5c48e" />
<rect x="429.15" y="630.00" width="7.50" height="1.50" fill="#6aaa3a" />
<rect x="429.15" y="631.50" width="7.50" height="1.00" fill="#6aaee2" />
<line x1="241.00" y1="515.50" x2="241.00" y2="638.00" stroke="#111" stroke-width="1.1" />
<line x1="268.60" y1="515.50" x2="268.60" y2="638.00" stroke="#111" stroke-width="1.1" />
<line x1="241.00" y1="517.70" x2="243.40" y2="517.70" stroke="#111" stroke-width="1" />
<line x1="266.30" y1="517.70" x2="268.60" y2="517.70" stroke="#111" stroke-width="1" />
<text x="254.90" y="520.40" font-size="7.5" stroke="#1a1a1a" stroke-width="0.15" text-anchor="middle" fill="#1a1a1a" textLength="15.3" lengthAdjust="spacingAndGlyphs">1.00</text>
<line x1="241.00" y1="546.50" x2="243.40" y2="546.50" stroke="#111" stroke-width="1" />
<line x1="266.30" y1="546.50" x2="268.60" y2="546.50" stroke="#111" stroke-width="1" />
<text x="254.90" y="549.20" font-size="7.5" stroke="#1a1a1a" stroke-width="0.15" text-anchor="middle" fill="#1a1a1a" textLength="15.3" lengthAdjust="spacingAndGlyphs">0.75</text>
<line x1="241.00" y1="575.30" x2="243.40" y2="575.30" stroke="#111" stroke-width="1" />
<line x1="266.30" y1="575.30" x2="268.60" y2="575.30" stroke="#111" stroke-width="1" />
<text x="254.90" y="578.00" font-size="7.5" stroke="#1a1a1a" stroke-width="0.15" text-anchor="middle" fill="#1a1a1a" textLength="15.3" lengthAdjust="spacingAndGlyphs">0.50</text>
<line x1="241.00" y1="604.10" x2="243.40" y2="604.10" stroke="#111" stroke-width="1" />
<line x1="266.30" y1="604.10" x2="268.60" y2="604.10" stroke="#111" stroke-width="1" />
<text x="254.90" y="606.80" font-size="7.5" stroke="#1a1a1a" stroke-width="0.15" text-anchor="middle" fill="#1a1a1a" textLength="15.3" lengthAdjust="spacingAndGlyphs">0.25</text>
<line x1="241.00" y1="632.90" x2="243.40" y2="632.90" stroke="#111" stroke-width="1" />
<line x1="266.30" y1="632.90" x2="268.60" y2="632.90" stroke="#111" stroke-width="1" />
<text x="254.90" y="635.60" font-size="7.5" stroke="#1a1a1a" stroke-width="0.15" text-anchor="middle" fill="#1a1a1a" textLength="15.3" lengthAdjust="spacingAndGlyphs">0.00</text>
<line x1="71.00" y1="638.00" x2="116.50" y2="638.00" stroke="#111" stroke-width="1.1" />
<line x1="119.80" y1="638.00" x2="156.70" y2="638.00" stroke="#111" stroke-width="1.1" />
<line x1="160.20" y1="638.00" x2="197.50" y2="638.00" stroke="#111" stroke-width="1.1" />
<line x1="201.00" y1="638.00" x2="241.50" y2="638.00" stroke="#111" stroke-width="1.1" />
<line x1="268.10" y1="638.00" x2="315.80" y2="638.00" stroke="#111" stroke-width="1.1" />
<line x1="319.20" y1="638.00" x2="356.70" y2="638.00" stroke="#111" stroke-width="1.1" />
<line x1="360.20" y1="638.00" x2="395.80" y2="638.00" stroke="#111" stroke-width="1.1" />
<line x1="400.40" y1="638.00" x2="437.30" y2="638.00" stroke="#111" stroke-width="1.1" />
<line x1="76.45" y1="638.00" x2="76.45" y2="640.60" stroke="#111" stroke-width="0.9" />
<line x1="85.45" y1="638.00" x2="85.45" y2="640.60" stroke="#111" stroke-width="0.9" />
<line x1="94.45" y1="638.00" x2="94.45" y2="640.60" stroke="#111" stroke-width="0.9" />
<line x1="103.45" y1="638.00" x2="103.45" y2="640.60" stroke="#111" stroke-width="0.9" />
<line x1="112.45" y1="638.00" x2="112.45" y2="640.60" stroke="#111" stroke-width="0.9" />
<line x1="125.05" y1="638.00" x2="125.05" y2="640.60" stroke="#111" stroke-width="0.9" />
<line x1="134.05" y1="638.00" x2="134.05" y2="640.60" stroke="#111" stroke-width="0.9" />
<line x1="143.05" y1="638.00" x2="143.05" y2="640.60" stroke="#111" stroke-width="0.9" />
<line x1="152.05" y1="638.00" x2="152.05" y2="640.60" stroke="#111" stroke-width="0.9" />
<line x1="166.05" y1="638.00" x2="166.05" y2="640.60" stroke="#111" stroke-width="0.9" />
<line x1="175.05" y1="638.00" x2="175.05" y2="640.60" stroke="#111" stroke-width="0.9" />
<line x1="184.05" y1="638.00" x2="184.05" y2="640.60" stroke="#111" stroke-width="0.9" />
<line x1="193.05" y1="638.00" x2="193.05" y2="640.60" stroke="#111" stroke-width="0.9" />
<line x1="206.65" y1="638.00" x2="206.65" y2="640.60" stroke="#111" stroke-width="0.9" />
<line x1="215.65" y1="638.00" x2="215.65" y2="640.60" stroke="#111" stroke-width="0.9" />
<line x1="224.65" y1="638.00" x2="224.65" y2="640.60" stroke="#111" stroke-width="0.9" />
<line x1="233.65" y1="638.00" x2="233.65" y2="640.60" stroke="#111" stroke-width="0.9" />
<line x1="276.05" y1="638.00" x2="276.05" y2="640.60" stroke="#111" stroke-width="0.9" />
<line x1="285.00" y1="638.00" x2="285.00" y2="640.60" stroke="#111" stroke-width="0.9" />
<line x1="293.95" y1="638.00" x2="293.95" y2="640.60" stroke="#111" stroke-width="0.9" />
<line x1="302.90" y1="638.00" x2="302.90" y2="640.60" stroke="#111" stroke-width="0.9" />
<line x1="311.85" y1="638.00" x2="311.85" y2="640.60" stroke="#111" stroke-width="0.9" />
<line x1="324.75" y1="638.00" x2="324.75" y2="640.60" stroke="#111" stroke-width="0.9" />
<line x1="333.75" y1="638.00" x2="333.75" y2="640.60" stroke="#111" stroke-width="0.9" />
<line x1="342.75" y1="638.00" x2="342.75" y2="640.60" stroke="#111" stroke-width="0.9" />
<line x1="351.75" y1="638.00" x2="351.75" y2="640.60" stroke="#111" stroke-width="0.9" />
<line x1="365.25" y1="638.00" x2="365.25" y2="640.60" stroke="#111" stroke-width="0.9" />
<line x1="374.40" y1="638.00" x2="374.40" y2="640.60" stroke="#111" stroke-width="0.9" />
<line x1="383.55" y1="638.00" x2="383.55" y2="640.60" stroke="#111" stroke-width="0.9" />
<line x1="392.70" y1="638.00" x2="392.70" y2="640.60" stroke="#111" stroke-width="0.9" />
<line x1="406.05" y1="638.00" x2="406.05" y2="640.60" stroke="#111" stroke-width="0.9" />
<line x1="415.00" y1="638.00" x2="415.00" y2="640.60" stroke="#111" stroke-width="0.9" />
<line x1="423.95" y1="638.00" x2="423.95" y2="640.60" stroke="#111" stroke-width="0.9" />
<line x1="432.90" y1="638.00" x2="432.90" y2="640.60" stroke="#111" stroke-width="0.9" />
<line x1="80.10" y1="646.40" x2="228.80" y2="646.40" stroke="#111" stroke-width="1.0" />
<line x1="284.80" y1="646.40" x2="426.20" y2="646.40" stroke="#111" stroke-width="1.0" />
<text x="154.60" y="658.00" font-size="8.5" stroke="#1a1a1a" stroke-width="0.15" text-anchor="middle" fill="#1a1a1a" textLength="24.8" lengthAdjust="spacingAndGlyphs">Samples</text>
<text x="354.60" y="658.00" font-size="8.5" stroke="#1a1a1a" stroke-width="0.15" text-anchor="middle" fill="#1a1a1a" textLength="24.8" lengthAdjust="spacingAndGlyphs">Samples</text>
<text x="255.20" y="646.60" font-size="8.5" stroke="#1a1a1a" stroke-width="0.15" text-anchor="middle" fill="#1a1a1a" textLength="22.2" lengthAdjust="spacingAndGlyphs">Relative</text>
<text x="255.20" y="657.80" font-size="8.5" stroke="#1a1a1a" stroke-width="0.15" text-anchor="middle" fill="#1a1a1a" textLength="31.6" lengthAdjust="spacingAndGlyphs">abundance</text>
<text x="114.50" y="493.40" font-size="9.8" stroke="#a80f3a" stroke-width="0.15" text-anchor="middle" fill="#a80f3a" textLength="38.5" lengthAdjust="spacingAndGlyphs">Ampicillin</text>
<text x="199.70" y="493.40" font-size="9.8" stroke="#34599a" stroke-width="0.15" text-anchor="middle" fill="#34599a" textLength="29.6" lengthAdjust="spacingAndGlyphs">Control</text>
<text x="314.10" y="493.40" font-size="9.8" stroke="#a80f3a" stroke-width="0.15" text-anchor="middle" fill="#a80f3a" textLength="38.5" lengthAdjust="spacingAndGlyphs">Ampicillin</text>
<text x="399.10" y="493.40" font-size="9.8" stroke="#34599a" stroke-width="0.15" text-anchor="middle" fill="#34599a" textLength="29.6" lengthAdjust="spacingAndGlyphs">Control</text>
<path d="M76.30,502.7V497.9H152.90V502.7" fill="none" stroke="#222" stroke-width="1"/>
<path d="M165.20,502.7V497.9H234.20V502.7" fill="none" stroke="#222" stroke-width="1"/>
<path d="M275.80,502.7V497.9H352.40V502.7" fill="none" stroke="#222" stroke-width="1"/>
<path d="M365.40,502.7V497.9H432.70V502.7" fill="none" stroke="#222" stroke-width="1"/>
<text x="93.80" y="513.00" font-size="7.8" stroke="#1a1a1a" stroke-width="0.15" text-anchor="middle" fill="#1a1a1a" textLength="25.9" lengthAdjust="spacingAndGlyphs">Week 6</text>
<text x="138.50" y="513.00" font-size="7.8" stroke="#1a1a1a" stroke-width="0.15" text-anchor="middle" fill="#1a1a1a" textLength="30.7" lengthAdjust="spacingAndGlyphs">Week 10</text>
<text x="179.70" y="513.00" font-size="7.8" stroke="#1a1a1a" stroke-width="0.15" text-anchor="middle" fill="#1a1a1a" textLength="25.9" lengthAdjust="spacingAndGlyphs">Week 6</text>
<text x="220.30" y="513.00" font-size="7.8" stroke="#1a1a1a" stroke-width="0.15" text-anchor="middle" fill="#1a1a1a" textLength="30.7" lengthAdjust="spacingAndGlyphs">Week 10</text>
<text x="293.50" y="513.00" font-size="7.8" stroke="#1a1a1a" stroke-width="0.15" text-anchor="middle" fill="#1a1a1a" textLength="25.9" lengthAdjust="spacingAndGlyphs">Week 6</text>
<text x="338.20" y="513.00" font-size="7.8" stroke="#1a1a1a" stroke-width="0.15" text-anchor="middle" fill="#1a1a1a" textLength="30.7" lengthAdjust="spacingAndGlyphs">Week 10</text>
<text x="379.80" y="513.00" font-size="7.8" stroke="#1a1a1a" stroke-width="0.15" text-anchor="middle" fill="#1a1a1a" textLength="25.9" lengthAdjust="spacingAndGlyphs">Week 6</text>
<text x="419.50" y="513.00" font-size="7.8" stroke="#1a1a1a" stroke-width="0.15" text-anchor="middle" fill="#1a1a1a" textLength="30.7" lengthAdjust="spacingAndGlyphs">Week 10</text>
<text x="67.40" y="519.10" font-size="7.3" text-anchor="end" fill="#000" font-weight="bold" textLength="25.9" lengthAdjust="spacingAndGlyphs">Phylum</text>
<rect x="61.00" y="525.90" width="6.80" height="3.80" fill="#a3002a" />
<text x="57.70" y="530.30" font-size="7.05" stroke="#1a1a1a" stroke-width="0.15" text-anchor="end" fill="#1a1a1a">Firmicutes</text>
<rect x="61.00" y="536.97" width="6.80" height="3.80" fill="#a86c2a" />
<text x="57.70" y="541.37" font-size="7.05" stroke="#1a1a1a" stroke-width="0.15" text-anchor="end" fill="#1a1a1a">Bacteroidetes</text>
<rect x="61.00" y="548.04" width="6.80" height="3.80" fill="#6aaa3a" />
<text x="57.70" y="552.44" font-size="7.05" stroke="#1a1a1a" stroke-width="0.15" text-anchor="end" fill="#1a1a1a">Proteobacteria</text>
<rect x="61.00" y="559.11" width="6.80" height="3.80" fill="#2e6650" />
<text x="57.70" y="563.51" font-size="7.05" stroke="#1a1a1a" stroke-width="0.15" text-anchor="end" fill="#1a1a1a">Deferribacteres</text>
<rect x="61.00" y="570.18" width="6.80" height="3.80" fill="#6aaee2" />
<text x="57.70" y="574.58" font-size="7.05" stroke="#1a1a1a" stroke-width="0.15" text-anchor="end" fill="#1a1a1a">Verrucomicrobia</text>
<rect x="61.00" y="581.25" width="6.80" height="3.80" fill="#4a1f6a" />
<text x="57.70" y="585.65" font-size="7.05" stroke="#1a1a1a" stroke-width="0.15" text-anchor="end" fill="#1a1a1a">Actinobacteria</text>
<rect x="61.00" y="592.32" width="6.80" height="3.80" fill="#cc0a7a" />
<text x="57.70" y="596.72" font-size="7.05" stroke="#1a1a1a" stroke-width="0.15" text-anchor="end" fill="#1a1a1a">Cyanobacteria</text>
<text x="441.00" y="518.60" font-size="7.3" fill="#000" font-weight="bold">Class</text>
<rect x="440.70" y="525.50" width="6.90" height="3.80" fill="#a3002a" />
<text x="450.80" y="529.90" font-size="7.12" stroke="#1a1a1a" stroke-width="0.15" fill="#1a1a1a">Clostridia</text>
<rect x="440.70" y="536.62" width="6.90" height="3.80" fill="#e08a20" />
<text x="450.80" y="541.02" font-size="7.12" stroke="#1a1a1a" stroke-width="0.15" fill="#1a1a1a">Bacteroidia</text>
<rect x="440.70" y="547.74" width="6.90" height="3.80" fill="#b5c48e" />
<text x="450.80" y="552.14" font-size="7.12" stroke="#1a1a1a" stroke-width="0.15" fill="#1a1a1a">Deferribacteres</text>
<rect x="440.70" y="558.86" width="6.90" height="3.80" fill="#6aaa3a" />
<text x="450.80" y="563.26" font-size="7.12" stroke="#1a1a1a" stroke-width="0.15" fill="#1a1a1a">Bacilli</text>
<rect x="440.70" y="569.98" width="6.90" height="3.80" fill="#2e6650" />
<text x="450.80" y="574.38" font-size="7.12" stroke="#1a1a1a" stroke-width="0.15" fill="#1a1a1a">Verrucomicrobiae</text>
<rect x="440.70" y="581.10" width="6.90" height="3.80" fill="#1f3f7a" />
<text x="450.80" y="585.50" font-size="7.12" stroke="#1a1a1a" stroke-width="0.15" fill="#1a1a1a">Deltaproteobacteria</text>
<rect x="440.70" y="592.22" width="6.90" height="3.80" fill="#6aaee2" />
<text x="450.80" y="596.62" font-size="7.12" stroke="#1a1a1a" stroke-width="0.15" fill="#1a1a1a">Betaproteobacteria</text>
<rect x="440.70" y="603.34" width="6.90" height="3.80" fill="#4a1a5e" />
<text x="450.80" y="607.74" font-size="7.12" stroke="#1a1a1a" stroke-width="0.15" fill="#1a1a1a">Erysipelotrichi</text>
<rect x="440.70" y="614.46" width="6.90" height="3.80" fill="#cc0a7a" />
<text x="450.80" y="618.86" font-size="7.12" stroke="#1a1a1a" stroke-width="0.15" fill="#1a1a1a">Coriobacteria</text>
<rect x="440.70" y="625.58" width="6.90" height="3.80" fill="#c4127e" />
<text x="450.80" y="629.98" font-size="7.12" stroke="#1a1a1a" stroke-width="0.15" fill="#1a1a1a">4C0d_2</text>
<rect x="0.5" y="0.5" width="519" height="666" fill="none" stroke="#000" stroke-width="1.2"/>
</svg>
</body></html>
